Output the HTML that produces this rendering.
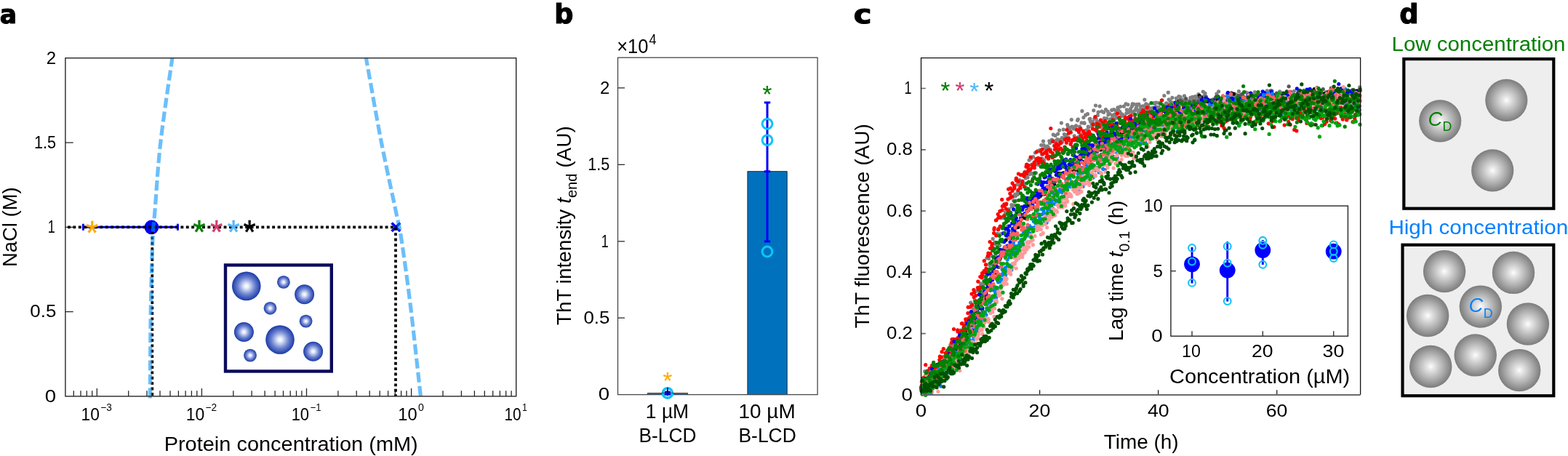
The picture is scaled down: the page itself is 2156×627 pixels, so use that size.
<!DOCTYPE html>
<html lang="en"><head><meta charset="utf-8"><title>Figure</title>
<style>
html,body{margin:0;padding:0;background:#fff;}
svg{display:block;font-family:"Liberation Sans", sans-serif;}
</style></head><body>
<svg width="2156" height="627" viewBox="0 0 2156 627">
<defs>
<radialGradient id="gb" cx="0.5" cy="0.5" r="0.5"><stop offset="0" stop-color="#ffffff"/><stop offset="0.15" stop-color="#e8ecfa"/><stop offset="0.6" stop-color="#6a82d0"/><stop offset="1" stop-color="#1c3aa8"/></radialGradient>
<radialGradient id="gg" cx="0.5" cy="0.5" r="0.5"><stop offset="0" stop-color="#ffffff"/><stop offset="0.12" stop-color="#ececec"/><stop offset="0.6" stop-color="#b0b0b0"/><stop offset="1" stop-color="#7c7c7c"/></radialGradient>
</defs>
<rect width="2156" height="627" fill="#fff"/>
<text transform="translate(-0.13 32.31) scale(0.9333 0.9511)" font-size="37" fill="#000" font-weight="bold" font-family="'DejaVu Sans', 'Liberation Sans', sans-serif" stroke="#000" stroke-width="1.2" stroke-linejoin="round">a</text>
<text transform="translate(762.23 32.27) scale(0.9870 0.9833)" font-size="37" fill="#000" font-weight="bold" font-family="'DejaVu Sans', 'Liberation Sans', sans-serif" stroke="#000" stroke-width="1.2" stroke-linejoin="round">b</text>
<text transform="translate(1173.77 32.31) scale(1.1263 0.9511)" font-size="37" fill="#000" font-weight="bold" font-family="'DejaVu Sans', 'Liberation Sans', sans-serif" stroke="#000" stroke-width="1.2" stroke-linejoin="round">c</text>
<text transform="translate(1924.31 32.27) scale(0.9913 0.9833)" font-size="37" fill="#000" font-weight="bold" font-family="'DejaVu Sans', 'Liberation Sans', sans-serif" stroke="#000" stroke-width="1.2" stroke-linejoin="round">d</text>
<g id="pa">
<path d="M89.9 428.6h10.8M89.9 312.4h10.8M89.9 196.1h10.8M101.3 544.9v-7.6M111.0 544.9v-7.6M119.3 544.9v-7.6M126.7 544.9v-7.6M133.3 544.9v-10.8M176.7 544.9v-7.6M202.0 544.9v-7.6M220.0 544.9v-7.6M234.0 544.9v-7.6M245.4 544.9v-7.6M255.1 544.9v-7.6M263.4 544.9v-7.6M270.8 544.9v-7.6M277.4 544.9v-10.8M320.8 544.9v-7.6M346.1 544.9v-7.6M364.1 544.9v-7.6M378.1 544.9v-7.6M389.5 544.9v-7.6M399.2 544.9v-7.6M407.5 544.9v-7.6M414.9 544.9v-7.6M421.5 544.9v-10.8M464.9 544.9v-7.6M490.2 544.9v-7.6M508.2 544.9v-7.6M522.2 544.9v-7.6M533.6 544.9v-7.6M543.3 544.9v-7.6M551.6 544.9v-7.6M559.0 544.9v-7.6M565.6 544.9v-10.8M609.0 544.9v-7.6M634.4 544.9v-7.6M652.4 544.9v-7.6M666.3 544.9v-7.6M677.7 544.9v-7.6M687.4 544.9v-7.6M695.7 544.9v-7.6M703.1 544.9v-7.6" stroke="#262626" stroke-width="1.3" fill="none"/>
<path d="M114.4 312.3H244.4M114.4 307.8v9M244.4 307.8v9" stroke="#0000FF" stroke-width="3" fill="none"/>
<circle cx="208.4" cy="312.4" r="9.9" fill="#0000F5"/>
<path d="M538.6 306.4l11.6 11.6M550.2 306.4l-11.6 11.6" stroke="#0000FF" stroke-width="3.6" fill="none"/>
<path d="M93 312.3H545.5" stroke="#000" stroke-width="3.7" stroke-dasharray="3.9 3.5" fill="none"/>
<path d="M209.3 318V544.4" stroke="#000" stroke-width="3.7" stroke-dasharray="3.9 3.5" fill="none"/>
<path d="M544 312.8V544.4" stroke="#000" stroke-width="3.7" stroke-dasharray="3.9 3.5" fill="none"/>
<path d="M236.9 79.8C234.2 98.9 224.9 159.7 220.9 194.7C216.9 229.7 214.8 267.4 213.0 290.0C211.2 312.6 210.8 307.5 209.9 330.0C209.0 352.5 207.9 388.8 207.3 425.0C206.7 461.2 206.5 527.1 206.3 547.5" stroke="#0090F8" stroke-opacity="0.58" stroke-width="5.2" fill="none" stroke-dasharray="14 5.047" stroke-dashoffset="1.8"/>
<path d="M503.4 79.8C506.8 98.5 516.9 156.9 523.7 192.2C530.6 227.5 539.8 268.7 544.5 291.5C549.2 314.3 548.6 307.4 551.9 328.8C555.2 350.2 559.9 383.6 564.3 419.6C568.7 455.6 576.0 524.0 578.4 544.9" stroke="#0090F8" stroke-opacity="0.58" stroke-width="5.2" fill="none" stroke-dasharray="14.1 5.086" stroke-dashoffset="3.3"/>
<rect x="89.9" y="79.8" width="619.8" height="465.1" fill="none" stroke="#262626" stroke-width="1.4"/>
<text transform="translate(118.10 335.53) scale(1.0092 1.06)" font-size="44.1" fill="#FFAC00" stroke="#FFAC00" stroke-width="0.4">*</text>
<text transform="translate(265.30 334.53) scale(1.0092 1.06)" font-size="44.1" fill="#008000" stroke="#008000" stroke-width="0.4">*</text>
<text transform="translate(289.00 334.53) scale(1.0092 1.06)" font-size="44.1" fill="#D04070" stroke="#D04070" stroke-width="0.4">*</text>
<text transform="translate(312.60 334.53) scale(1.0092 1.06)" font-size="44.1" fill="#55B8FA" stroke="#55B8FA" stroke-width="0.4">*</text>
<text transform="translate(334.60 335.33) scale(1.0092 1.06)" font-size="44.1" fill="#000" stroke="#000" stroke-width="0.4">*</text>
<rect x="310" y="364.5" width="145.8" height="146" fill="#fff" stroke="#0A0A5C" stroke-width="4.4"/>
<circle cx="338.8" cy="393.4" r="19.8" fill="url(#gb)"/>
<circle cx="389.9" cy="387.9" r="8.9" fill="url(#gb)"/>
<circle cx="418.6" cy="404.8" r="13.5" fill="url(#gb)"/>
<circle cx="371.5" cy="423.8" r="8.9" fill="url(#gb)"/>
<circle cx="420.6" cy="441.6" r="8.9" fill="url(#gb)"/>
<circle cx="335.4" cy="456.5" r="13.5" fill="url(#gb)"/>
<circle cx="385" cy="467.1" r="19.8" fill="url(#gb)"/>
<circle cx="430.6" cy="483.2" r="13.5" fill="url(#gb)"/>
<circle cx="344" cy="488.6" r="8.9" fill="url(#gb)"/>
<text transform="translate(61.72 552.7) scale(1.1500 1)" font-size="24" fill="#000" >0</text>
<text transform="translate(41.33 436.4) scale(1.0780 1)" font-size="24" fill="#000" >0.5</text>
<text transform="translate(65.71 320.2) scale(0.7500 1)" font-size="24" fill="#000" >1</text>
<text transform="translate(47.07 203.9) scale(0.9000 1)" font-size="24" fill="#000" >1.5</text>
<text transform="translate(63.85 87.6) scale(1.0000 1)" font-size="24" fill="#000" >2</text>
<text transform="translate(111.57 577.8) scale(0.9491 1)" font-size="24" fill="#000" >10<tspan font-size="14.3" dy="-12.6" dx="1.5">−3</tspan></text>
<text transform="translate(255.66 577.8) scale(0.9548 1)" font-size="24" fill="#000" >10<tspan font-size="14.3" dy="-12.6" dx="1.5">−2</tspan></text>
<text transform="translate(400.64 577.8) scale(0.9167 1)" font-size="24" fill="#000" >10<tspan font-size="14.3" dy="-12.6" dx="1.5">−1</tspan></text>
<text transform="translate(547.22 577.8) scale(0.9867 1)" font-size="24" fill="#000" >10<tspan font-size="14.3" dy="-12.6" dx="1.5">0</tspan></text>
<text transform="translate(693.53 577.8) scale(0.8681 1)" font-size="24" fill="#000" >10<tspan font-size="14.3" dy="-12.6" dx="1.5">1</tspan></text>
<text transform="translate(225.65 619.8) scale(1.0452 1)" font-size="27.7" fill="#000" >Protein concentration (mM)</text>
<text transform="translate(23.0 367.03) rotate(-90) scale(0.9911 1)" font-size="27.7" fill="#000" >NaCl (M)</text>
</g>
<g id="pb">
<path d="M849.5 437.2h9.5M849.5 331.8h9.5M849.5 226.3h9.5M849.5 120.9h9.5" stroke="#262626" stroke-width="1.3" fill="none"/>
<rect x="1027.9" y="235.7" width="54.3" height="306.9" fill="#0072BD" stroke="#10202c" stroke-width="0.9"/>
<rect x="849.5" y="79.2" width="274.6" height="463.4" fill="none" stroke="#484848" stroke-width="1.3"/>
<path d="M1055 140.9V332M1050.8 140.9h8.4M1050.8 332h8.4M1050.8 235.7h8.4" stroke="#0000FF" stroke-width="3" fill="none"/>
<circle cx="1055" cy="170.3" r="6.9" fill="none" stroke="#0CC4F8" stroke-width="3"/>
<circle cx="1055" cy="192.8" r="6.9" fill="none" stroke="#0CC4F8" stroke-width="3"/>
<circle cx="1055" cy="346" r="6.9" fill="none" stroke="#0CC4F8" stroke-width="3"/>
<circle cx="917.9" cy="540.5" r="6.7" fill="none" stroke="#0CC4F8" stroke-width="3.4"/>
<rect x="913.6" y="537.4" width="8.6" height="6" rx="1.5" fill="#0000F0"/>
<path d="M917.9 533v11.3" stroke="#000080" stroke-width="1.7" fill="none"/>
<path d="M890.4 541.4H910M926 541.4H945.6" stroke="#0072BD" stroke-width="1.2" fill="none"/>
<path d="M890.4 542.6V540.4H945.6V542.6" stroke="#2a2a2a" stroke-width="0.9" fill="none" stroke-opacity="0.9"/>
<text transform="translate(1048.59 140.56) scale(1.0261 1.05)" font-size="32.1" fill="#008000" stroke="#008000" stroke-width="0.15">*</text>
<text transform="translate(911.49 534.86) scale(1.0261 1.05)" font-size="32.1" fill="#FFAC00" stroke="#FFAC00" stroke-width="0.15">*</text>
<text transform="translate(822.83 550.4) scale(1.1500 1)" font-size="24" fill="#000" >0</text>
<text transform="translate(802.43 445.0) scale(1.0780 1)" font-size="24" fill="#000" >0.5</text>
<text transform="translate(826.81 339.6) scale(0.7500 1)" font-size="24" fill="#000" >1</text>
<text transform="translate(808.17 234.1) scale(0.9000 1)" font-size="24" fill="#000" >1.5</text>
<text transform="translate(824.95 128.7) scale(1.0000 1)" font-size="24" fill="#000" >2</text>
<text transform="translate(848.18 72.9) scale(0.9123 1)" font-size="28" fill="#000" >×10<tspan font-size="19.8" dy="-12" dx="1">4</tspan></text>
<text transform="translate(887.86 575.1) scale(0.9684 1)" font-size="27.3" fill="#000" >1 µM</text>
<text transform="translate(878.57 607.6) scale(0.9455 1)" font-size="27.8" fill="#000" >B-LCD</text>
<text transform="translate(1015.55 575.1) scale(1.0228 1)" font-size="27.3" fill="#000" >10 µM</text>
<text transform="translate(1015.46 607.6) scale(0.9517 1)" font-size="27.8" fill="#000" >B-LCD</text>
<text transform="translate(784.5 447.20) rotate(-90) scale(1.0063 1)" font-size="27.8" fill="#000" >ThT intensity <tspan font-style="italic">t</tspan><tspan font-size="20" dy="8">end</tspan><tspan dy="-8"> (AU)</tspan></text>
</g>
<g id="pc">
<path d="M1266.5 458.7h6.3M1266.5 374.4h6.3M1266.5 290.1h6.3M1266.5 205.8h6.3M1266.5 121.5h6.3" stroke="#6a6a6a" stroke-width="1.7" fill="none"/>
<path d="M1429.6 542.8v-6.5M1592.6 542.8v-6.5M1755.7 542.8v-6.5" stroke="#222" stroke-width="1.3" fill="none"/>
<path d="M1268.1 522.8h0M1270.9 520.7h0M1273.7 527.7h0M1276.5 515.7h0M1279.2 510.7h0M1282.0 510.9h0M1284.8 510.0h0M1287.5 509.1h0M1290.3 505.0h0M1293.1 497.6h0M1295.9 496.9h0M1298.6 495.2h0M1301.4 489.7h0M1304.2 484.1h0M1306.9 474.3h0M1309.7 478.7h0M1312.5 483.2h0M1315.3 467.8h0M1318.0 475.8h0M1320.8 454.1h0M1323.6 444.5h0M1326.4 449.1h0M1329.1 456.4h0M1331.9 437.4h0M1334.7 416.2h0M1337.4 430.2h0M1340.2 412.5h0M1343.0 400.3h0M1345.8 397.6h0M1348.5 389.8h0M1351.3 379.5h0M1354.1 372.7h0M1356.8 354.8h0M1359.6 355.6h0M1362.4 349.9h0M1365.2 328.3h0M1367.9 333.0h0M1370.7 321.5h0M1373.5 313.8h0M1376.3 299.8h0M1379.0 299.5h0M1381.8 295.0h0M1384.6 294.4h0M1387.3 287.5h0M1390.1 269.4h0M1392.9 270.2h0M1395.7 267.0h0M1398.4 253.8h0M1401.2 251.7h0M1404.0 240.7h0M1406.7 240.1h0M1409.5 236.2h0M1412.3 226.0h0M1415.1 220.2h0M1417.8 218.1h0M1420.6 215.7h0M1423.4 210.0h0M1426.1 221.6h0M1428.9 207.6h0M1431.7 199.5h0M1434.5 194.2h0M1437.2 203.8h0M1440.0 201.1h0M1442.8 193.8h0M1445.6 194.3h0M1448.3 185.2h0M1451.1 186.4h0M1453.9 191.5h0M1456.6 179.1h0M1459.4 169.1h0M1462.2 178.2h0M1465.0 188.7h0M1467.7 171.5h0M1470.5 175.7h0M1473.3 164.6h0M1476.0 176.9h0M1478.8 173.7h0M1481.6 165.6h0M1484.4 174.2h0M1487.1 168.9h0M1489.9 161.6h0M1492.7 158.2h0M1495.5 156.7h0M1498.2 163.7h0M1501.0 170.8h0M1503.8 151.8h0M1506.5 145.1h0M1509.3 158.6h0M1512.1 146.1h0M1514.9 153.1h0M1517.6 154.5h0M1520.4 150.7h0M1523.2 153.3h0M1525.9 156.5h0M1528.7 151.4h0M1531.5 150.6h0M1534.3 152.0h0M1537.0 147.9h0M1539.8 153.5h0M1542.6 159.6h0M1545.4 146.2h0M1548.1 142.9h0M1550.9 143.8h0M1553.7 153.2h0M1556.4 146.2h0M1559.2 143.3h0M1562.0 149.1h0M1564.8 151.5h0M1567.5 153.1h0M1570.3 151.7h0M1573.1 146.1h0M1575.8 142.8h0M1578.6 144.4h0M1581.4 151.4h0M1584.2 150.0h0M1586.9 141.5h0M1589.7 141.1h0M1592.5 153.0h0M1595.3 150.5h0M1598.0 137.5h0M1600.8 131.5h0M1603.6 141.9h0M1606.3 127.2h0M1609.1 138.8h0M1611.9 134.3h0M1614.7 141.5h0M1617.4 135.0h0M1620.2 146.0h0M1623.0 133.3h0M1625.7 137.1h0M1628.5 131.9h0M1631.3 140.1h0M1634.1 138.8h0M1636.8 134.3h0M1639.6 133.3h0M1642.4 146.1h0M1645.1 136.9h0M1647.9 129.5h0M1650.7 138.9h0M1653.5 137.8h0M1656.2 132.0h0M1659.0 140.7h0M1661.8 137.9h0M1664.6 140.3h0M1667.3 148.4h0M1670.1 140.3h0M1672.9 129.0h0M1675.6 125.8h0M1678.4 142.6h0M1681.2 142.2h0M1684.0 139.6h0M1686.7 144.4h0M1689.5 134.0h0M1692.3 129.7h0M1695.0 135.8h0M1697.8 133.5h0M1700.6 140.1h0M1703.4 125.5h0M1706.1 130.2h0M1708.9 137.6h0M1711.7 137.8h0M1714.5 137.4h0M1717.2 137.0h0M1720.0 128.0h0M1722.8 136.9h0M1725.5 126.5h0M1728.3 132.3h0M1731.1 139.6h0M1733.9 137.1h0M1736.6 132.7h0M1739.4 132.9h0M1742.2 124.9h0M1744.9 134.3h0M1747.7 132.0h0M1750.5 134.6h0M1753.3 142.9h0M1756.0 128.5h0M1758.8 140.4h0M1761.6 130.2h0M1764.4 129.2h0M1767.1 139.4h0M1769.9 131.5h0M1772.7 136.0h0M1775.4 141.2h0M1778.2 137.1h0M1781.0 145.5h0M1783.8 130.9h0M1786.5 142.0h0M1789.3 142.3h0M1792.1 129.4h0M1794.8 126.3h0M1797.6 135.4h0M1800.4 127.4h0M1803.2 129.8h0M1805.9 137.2h0M1808.7 134.1h0M1811.5 139.9h0M1814.2 127.5h0M1817.0 136.4h0M1819.8 138.2h0M1822.6 136.5h0M1825.3 141.6h0M1828.1 144.0h0M1830.9 130.2h0M1833.7 136.8h0M1836.4 132.7h0M1839.2 128.1h0M1842.0 140.0h0M1844.7 135.8h0M1847.5 142.6h0M1850.3 133.0h0M1853.1 135.3h0M1855.8 134.5h0M1858.6 125.2h0M1861.4 125.4h0M1864.1 132.1h0M1866.9 132.3h0M1869.7 119.9h0M1268.9 532.9h0M1271.7 510.6h0M1274.4 523.0h0M1277.2 516.7h0M1280.0 521.9h0M1282.7 512.1h0M1285.5 511.2h0M1288.3 503.8h0M1291.1 500.2h0M1293.8 502.8h0M1296.6 502.4h0M1299.4 491.0h0M1302.1 482.0h0M1304.9 484.6h0M1307.7 482.5h0M1310.5 474.7h0M1313.2 482.7h0M1316.0 474.6h0M1318.8 486.5h0M1321.6 464.4h0M1324.3 473.5h0M1327.1 453.2h0M1329.9 444.3h0M1332.6 450.5h0M1335.4 431.7h0M1338.2 424.8h0M1341.0 426.6h0M1343.7 421.2h0M1346.5 400.4h0M1349.3 394.4h0M1352.0 391.2h0M1354.8 381.6h0M1357.6 386.0h0M1360.4 362.9h0M1363.1 351.5h0M1365.9 340.8h0M1368.7 335.7h0M1371.5 321.3h0M1374.2 322.2h0M1377.0 321.4h0M1379.8 298.9h0M1382.5 291.8h0M1385.3 301.2h0M1388.1 297.2h0M1390.9 281.7h0M1393.6 275.8h0M1396.4 269.6h0M1399.2 267.4h0M1401.9 247.7h0M1404.7 249.9h0M1407.5 253.7h0M1410.3 244.9h0M1413.0 244.0h0M1415.8 235.9h0M1418.6 226.2h0M1421.4 241.4h0M1424.1 225.3h0M1426.9 207.7h0M1429.7 206.4h0M1432.4 212.1h0M1435.2 199.7h0M1438.0 208.9h0M1440.8 203.4h0M1443.5 196.7h0M1446.3 192.1h0M1449.1 194.1h0M1451.8 198.4h0M1454.6 184.1h0M1457.4 196.1h0M1460.2 189.7h0M1462.9 189.6h0M1465.7 188.5h0M1468.5 174.2h0M1471.2 179.7h0M1474.0 174.1h0M1476.8 174.6h0M1479.6 172.9h0M1482.3 164.1h0M1485.1 175.7h0M1487.9 152.7h0M1490.7 168.8h0M1493.4 179.1h0M1496.2 174.2h0M1499.0 163.4h0M1501.7 173.9h0M1504.5 171.2h0M1507.3 163.8h0M1510.1 154.2h0M1512.8 174.9h0M1515.6 173.4h0M1518.4 162.7h0M1521.1 169.4h0M1523.9 157.8h0M1526.7 163.8h0M1529.5 158.6h0M1532.2 164.8h0M1535.0 161.4h0M1537.8 151.3h0M1540.6 146.6h0M1543.3 157.3h0M1546.1 164.8h0M1548.9 155.6h0M1551.6 154.6h0M1554.4 149.6h0M1557.2 142.9h0M1560.0 159.0h0M1562.7 147.7h0M1565.5 155.0h0M1568.3 146.4h0M1571.0 154.8h0M1573.8 137.1h0M1576.6 149.0h0M1579.4 147.0h0M1582.1 149.4h0M1584.9 148.3h0M1587.7 142.8h0M1590.5 147.4h0M1593.2 141.6h0M1596.0 150.7h0M1598.8 144.1h0M1601.5 147.1h0M1604.3 145.4h0M1607.1 136.8h0M1609.9 144.3h0M1612.6 146.4h0M1615.4 143.1h0M1618.2 139.0h0M1620.9 132.6h0M1623.7 141.4h0M1626.5 151.4h0M1629.3 139.4h0M1632.0 139.8h0M1634.8 138.5h0M1637.6 150.0h0M1640.3 137.6h0M1643.1 133.0h0M1645.9 135.8h0M1648.7 136.7h0M1651.4 143.8h0M1654.2 126.1h0M1657.0 128.4h0M1659.8 136.1h0M1662.5 140.7h0M1665.3 138.7h0M1668.1 136.5h0M1670.8 137.9h0M1673.6 139.5h0M1676.4 136.3h0M1679.2 137.5h0M1681.9 139.5h0M1684.7 135.6h0M1687.5 128.8h0M1690.2 143.1h0M1693.0 127.6h0M1695.8 140.5h0M1698.6 129.5h0M1701.3 130.8h0M1704.1 134.7h0M1706.9 131.5h0M1709.7 135.8h0M1712.4 138.1h0M1715.2 127.8h0M1718.0 143.0h0M1720.7 133.1h0M1723.5 129.4h0M1726.3 133.3h0M1729.1 134.6h0M1731.8 132.8h0M1734.6 135.9h0M1737.4 140.5h0M1740.1 130.8h0M1742.9 127.7h0M1745.7 137.3h0M1748.5 132.7h0M1751.2 130.5h0M1754.0 137.7h0M1756.8 135.6h0M1759.6 125.9h0M1762.3 127.9h0M1765.1 136.6h0M1767.9 134.3h0M1770.6 135.8h0M1773.4 129.8h0M1776.2 129.5h0M1779.0 135.7h0M1781.7 137.8h0M1784.5 133.7h0M1787.3 129.8h0M1790.0 128.8h0M1792.8 131.4h0M1795.6 137.8h0M1798.4 139.7h0M1801.1 136.3h0M1803.9 128.9h0M1806.7 131.5h0M1809.4 130.2h0M1812.2 142.0h0M1815.0 131.8h0M1817.8 136.0h0M1820.5 144.8h0M1823.3 132.4h0M1826.1 133.3h0M1828.9 133.6h0M1831.6 135.3h0M1834.4 131.5h0M1837.2 134.0h0M1839.9 135.0h0M1842.7 130.5h0M1845.5 136.2h0M1848.3 133.0h0M1851.0 129.0h0M1853.8 133.5h0M1856.6 131.4h0M1859.3 123.9h0M1862.1 141.3h0M1864.9 129.8h0M1867.7 143.2h0M1266.5 535.7h0M1269.3 536.8h0M1272.1 539.6h0M1274.9 527.6h0M1277.6 517.0h0M1280.4 524.8h0M1283.2 518.6h0M1285.9 512.2h0M1288.7 511.1h0M1291.5 503.2h0M1294.3 499.3h0M1297.0 499.9h0M1299.8 491.2h0M1302.6 504.3h0M1305.3 492.4h0M1308.1 485.5h0M1310.9 469.3h0M1313.7 476.7h0M1316.4 480.3h0M1319.2 461.9h0M1322.0 472.4h0M1324.7 458.5h0M1327.5 455.2h0M1330.3 464.3h0M1333.1 442.7h0M1335.8 443.2h0M1338.6 436.8h0M1341.4 416.4h0M1344.2 421.9h0M1346.9 412.1h0M1349.7 415.1h0M1352.5 404.2h0M1355.2 390.0h0M1358.0 387.0h0M1360.8 364.7h0M1363.6 364.0h0M1366.3 355.2h0M1369.1 351.0h0M1371.9 339.4h0M1374.6 337.6h0M1377.4 321.3h0M1380.2 307.6h0M1383.0 316.1h0M1385.7 311.2h0M1388.5 291.8h0M1391.3 284.0h0M1394.1 282.3h0M1396.8 275.9h0M1399.6 263.9h0M1402.4 253.0h0M1405.1 272.3h0M1407.9 252.4h0M1410.7 257.8h0M1413.5 239.1h0M1416.2 239.6h0M1419.0 238.3h0M1421.8 239.5h0M1424.5 237.8h0M1427.3 226.6h0M1430.1 223.2h0M1432.9 218.1h0M1435.6 220.2h0M1438.4 209.3h0M1441.2 202.3h0M1444.0 205.4h0M1446.7 215.1h0M1449.5 200.2h0M1452.3 193.3h0M1455.0 192.2h0M1457.8 192.4h0M1460.6 195.2h0M1463.4 184.6h0M1466.1 185.5h0M1468.9 189.0h0M1471.7 181.0h0M1474.4 193.1h0M1477.2 186.8h0M1480.0 178.3h0M1482.8 188.6h0M1485.5 185.6h0M1488.3 184.5h0M1491.1 169.4h0M1493.9 181.2h0M1496.6 175.2h0M1499.4 167.1h0M1502.2 167.5h0M1504.9 163.3h0M1507.7 168.4h0M1510.5 167.5h0M1513.3 168.2h0M1516.0 170.4h0M1518.8 170.2h0M1521.6 162.8h0M1524.3 168.2h0M1527.1 168.0h0M1529.9 160.1h0M1532.7 157.1h0M1535.4 162.0h0M1538.2 168.5h0M1541.0 156.2h0M1543.7 170.7h0M1546.5 159.4h0M1549.3 150.8h0M1552.1 161.0h0M1554.8 151.3h0M1557.6 154.6h0M1560.4 152.1h0M1563.2 143.7h0M1565.9 143.4h0M1568.7 149.8h0M1571.5 145.8h0M1574.2 150.7h0M1577.0 169.7h0M1579.8 151.8h0M1582.6 159.9h0M1585.3 149.9h0M1588.1 142.8h0M1590.9 148.6h0M1593.6 147.3h0M1596.4 155.2h0M1599.2 148.4h0M1602.0 148.8h0M1604.7 142.4h0M1607.5 146.2h0M1610.3 141.2h0M1613.1 141.0h0M1615.8 144.6h0M1618.6 150.0h0M1621.4 145.6h0M1624.1 143.6h0M1626.9 144.6h0M1629.7 137.4h0M1632.5 143.2h0M1635.2 140.1h0M1638.0 144.5h0M1640.8 145.7h0M1643.5 132.6h0M1646.3 135.0h0M1649.1 142.6h0M1651.9 135.9h0M1654.6 132.6h0M1657.4 143.5h0M1660.2 140.4h0M1663.0 139.5h0M1665.7 137.6h0M1668.5 136.6h0M1671.3 134.1h0M1674.0 140.3h0M1676.8 143.6h0M1679.6 148.6h0M1682.4 140.3h0M1685.1 145.1h0M1687.9 132.8h0M1690.7 148.2h0M1693.4 128.1h0M1696.2 140.4h0M1699.0 151.5h0M1701.8 136.0h0M1704.5 138.5h0M1707.3 135.4h0M1710.1 132.9h0M1712.8 126.8h0M1715.6 135.0h0M1718.4 146.7h0M1721.2 136.6h0M1723.9 132.7h0M1726.7 129.0h0M1729.5 130.7h0M1732.3 137.3h0M1735.0 140.5h0M1737.8 133.0h0M1740.6 134.6h0M1743.3 137.3h0M1746.1 148.1h0M1748.9 124.9h0M1751.7 131.6h0M1754.4 143.6h0M1757.2 135.9h0M1760.0 133.5h0M1762.7 129.9h0M1765.5 134.2h0M1768.3 134.2h0M1771.1 139.9h0M1773.8 136.7h0M1776.6 136.2h0M1779.4 125.3h0M1782.2 135.4h0M1784.9 126.9h0M1787.7 127.9h0M1790.5 135.3h0M1793.2 142.0h0M1796.0 127.8h0M1798.8 128.4h0M1801.6 128.8h0M1804.3 138.4h0M1807.1 130.2h0M1809.9 128.1h0M1812.6 145.5h0M1815.4 134.8h0M1818.2 132.9h0M1821.0 133.7h0M1823.7 126.3h0M1826.5 138.1h0M1829.3 130.7h0M1832.1 137.2h0M1834.8 133.9h0M1837.6 133.1h0M1840.4 143.9h0M1843.1 140.1h0M1845.9 129.5h0M1848.7 138.9h0M1851.5 137.3h0M1854.2 133.1h0M1857.0 133.0h0M1859.8 130.6h0M1862.5 124.6h0M1865.3 139.6h0M1868.1 124.1h0" stroke="#808080" stroke-width="5.2" stroke-linecap="round" fill="none"/>
<path d="M1266.6 532.5h0M1269.4 540.8h0M1272.2 519.1h0M1275.0 519.9h0M1277.7 522.2h0M1280.5 525.9h0M1283.3 523.4h0M1286.0 510.3h0M1288.8 518.2h0M1291.6 506.2h0M1294.4 508.6h0M1297.1 505.7h0M1299.9 502.3h0M1302.7 506.5h0M1305.5 488.5h0M1308.2 496.3h0M1311.0 494.1h0M1313.8 493.3h0M1316.5 480.3h0M1319.3 473.1h0M1322.1 465.5h0M1324.9 477.7h0M1327.6 456.4h0M1330.4 461.4h0M1333.2 460.2h0M1335.9 454.9h0M1338.7 438.3h0M1341.5 431.6h0M1344.3 432.8h0M1347.0 419.6h0M1349.8 413.8h0M1352.6 409.9h0M1355.4 409.4h0M1358.1 396.2h0M1360.9 391.1h0M1363.7 383.5h0M1366.4 372.6h0M1369.2 375.1h0M1372.0 356.5h0M1374.8 356.3h0M1377.5 349.6h0M1380.3 347.3h0M1383.1 330.1h0M1385.8 338.1h0M1388.6 343.5h0M1391.4 327.5h0M1394.2 318.6h0M1396.9 313.0h0M1399.7 312.6h0M1402.5 304.0h0M1405.3 300.0h0M1408.0 299.2h0M1410.8 300.4h0M1413.6 282.7h0M1416.3 285.2h0M1419.1 283.3h0M1421.9 285.1h0M1424.7 277.5h0M1427.4 266.1h0M1430.2 269.7h0M1433.0 267.2h0M1435.7 267.0h0M1438.5 261.2h0M1441.3 258.5h0M1444.1 265.0h0M1446.8 254.0h0M1449.6 253.4h0M1452.4 240.5h0M1455.1 238.4h0M1457.9 238.6h0M1460.7 241.8h0M1463.5 237.7h0M1466.2 236.2h0M1469.0 230.0h0M1471.8 232.2h0M1474.6 233.6h0M1477.3 234.8h0M1480.1 232.1h0M1482.9 234.8h0M1485.6 222.7h0M1488.4 222.2h0M1491.2 209.2h0M1494.0 220.5h0M1496.7 211.6h0M1499.5 220.3h0M1502.3 212.1h0M1505.0 212.5h0M1507.8 216.9h0M1510.6 204.0h0M1513.4 206.0h0M1516.1 199.5h0M1518.9 193.4h0M1521.7 198.9h0M1524.5 201.8h0M1527.2 188.8h0M1530.0 201.6h0M1532.8 190.8h0M1535.5 190.5h0M1538.3 181.5h0M1541.1 182.5h0M1543.9 183.9h0M1546.6 187.7h0M1549.4 180.6h0M1552.2 183.8h0M1554.9 186.0h0M1557.7 177.0h0M1560.5 179.0h0M1563.3 176.2h0M1566.0 163.5h0M1568.8 167.9h0M1571.6 168.9h0M1574.4 174.3h0M1577.1 171.6h0M1579.9 172.9h0M1582.7 160.1h0M1585.4 160.5h0M1588.2 161.8h0M1591.0 165.8h0M1593.8 160.3h0M1596.5 155.8h0M1599.3 152.2h0M1602.1 153.5h0M1604.8 158.3h0M1607.6 157.0h0M1610.4 160.2h0M1613.2 160.1h0M1615.9 154.5h0M1618.7 149.4h0M1621.5 138.7h0M1624.2 156.2h0M1627.0 157.9h0M1629.8 144.0h0M1632.6 147.8h0M1635.3 143.8h0M1638.1 155.5h0M1640.9 145.5h0M1643.7 144.5h0M1646.4 146.0h0M1649.2 131.6h0M1652.0 134.3h0M1654.7 145.4h0M1657.5 146.0h0M1660.3 142.0h0M1663.1 150.2h0M1665.8 138.3h0M1668.6 144.3h0M1671.4 136.6h0M1674.1 135.1h0M1676.9 141.5h0M1679.7 138.4h0M1682.5 133.0h0M1685.2 139.9h0M1688.0 136.5h0M1690.8 136.8h0M1693.6 128.8h0M1696.3 129.2h0M1699.1 140.1h0M1701.9 136.9h0M1704.6 139.5h0M1707.4 138.3h0M1710.2 145.0h0M1713.0 139.0h0M1715.7 142.8h0M1718.5 134.8h0M1721.3 139.2h0M1724.0 132.5h0M1726.8 137.0h0M1729.6 135.8h0M1732.4 144.1h0M1735.1 135.4h0M1737.9 133.6h0M1740.7 137.7h0M1743.5 131.7h0M1746.2 131.5h0M1749.0 135.4h0M1751.8 130.6h0M1754.5 135.1h0M1757.3 130.4h0M1760.1 132.1h0M1762.9 134.5h0M1765.6 134.7h0M1768.4 136.3h0M1771.2 136.3h0M1773.9 144.7h0M1776.7 133.5h0M1779.5 131.1h0M1782.3 141.8h0M1785.0 128.2h0M1787.8 138.5h0M1790.6 130.3h0M1793.3 129.3h0M1796.1 130.8h0M1798.9 123.8h0M1801.7 128.9h0M1804.4 137.5h0M1807.2 122.6h0M1810.0 132.8h0M1812.8 132.6h0M1815.5 124.5h0M1818.3 131.6h0M1821.1 128.5h0M1823.8 130.6h0M1826.6 126.6h0M1829.4 140.5h0M1832.2 131.2h0M1834.9 134.1h0M1837.7 134.2h0M1840.5 124.9h0M1843.2 124.9h0M1846.0 135.5h0M1848.8 135.0h0M1851.6 131.6h0M1854.3 135.5h0M1857.1 132.7h0M1859.9 131.0h0M1862.7 127.3h0M1865.4 125.0h0M1868.2 129.5h0" stroke="#000000" stroke-width="5.2" stroke-linecap="round" fill="none"/>
<path d="M1267.5 532.6h0M1270.3 527.9h0M1273.1 535.0h0M1275.8 524.7h0M1278.6 528.6h0M1281.4 525.8h0M1284.2 519.1h0M1286.9 514.2h0M1289.7 510.7h0M1292.5 500.5h0M1295.3 512.3h0M1298.0 500.7h0M1300.8 504.6h0M1303.6 505.3h0M1306.3 491.7h0M1309.1 486.7h0M1311.9 495.2h0M1314.7 495.0h0M1317.4 483.6h0M1320.2 466.8h0M1323.0 469.8h0M1325.7 474.3h0M1328.5 475.7h0M1331.3 466.8h0M1334.1 459.3h0M1336.8 447.9h0M1339.6 442.7h0M1342.4 439.2h0M1345.2 431.9h0M1347.9 431.1h0M1350.7 426.4h0M1353.5 402.6h0M1356.2 405.4h0M1359.0 397.7h0M1361.8 399.3h0M1364.6 374.7h0M1367.3 365.7h0M1370.1 361.5h0M1372.9 367.5h0M1375.6 354.9h0M1378.4 343.5h0M1381.2 340.0h0M1384.0 339.2h0M1386.7 326.4h0M1389.5 333.6h0M1392.3 318.5h0M1395.0 311.0h0M1397.8 308.1h0M1400.6 305.3h0M1403.4 310.7h0M1406.1 295.3h0M1408.9 294.2h0M1411.7 289.2h0M1414.5 286.4h0M1417.2 281.4h0M1420.0 282.5h0M1422.8 269.3h0M1425.5 275.7h0M1428.3 271.6h0M1431.1 265.3h0M1433.9 259.4h0M1436.6 264.0h0M1439.4 257.1h0M1442.2 256.1h0M1444.9 254.4h0M1447.7 250.0h0M1450.5 250.0h0M1453.3 233.0h0M1456.0 243.8h0M1458.8 239.1h0M1461.6 243.5h0M1464.4 230.2h0M1467.1 235.7h0M1469.9 241.1h0M1472.7 225.5h0M1475.4 224.0h0M1478.2 230.8h0M1481.0 221.7h0M1483.8 224.1h0M1486.5 221.6h0M1489.3 212.0h0M1492.1 223.5h0M1494.8 218.1h0M1497.6 214.8h0M1500.4 204.1h0M1503.2 207.3h0M1505.9 194.1h0M1508.7 208.4h0M1511.5 195.7h0M1514.3 212.4h0M1517.0 201.0h0M1519.8 202.3h0M1522.6 196.3h0M1525.3 203.3h0M1528.1 197.9h0M1530.9 199.8h0M1533.7 184.0h0M1536.4 198.3h0M1539.2 196.0h0M1542.0 179.2h0M1544.7 177.0h0M1547.5 178.3h0M1550.3 183.7h0M1553.1 182.6h0M1555.8 182.5h0M1558.6 177.2h0M1561.4 173.6h0M1564.1 179.9h0M1566.9 176.3h0M1569.7 177.9h0M1572.5 167.9h0M1575.2 164.6h0M1578.0 157.8h0M1580.8 169.6h0M1583.6 161.6h0M1586.3 157.3h0M1589.1 157.6h0M1591.9 160.2h0M1594.6 159.4h0M1597.4 153.0h0M1600.2 151.2h0M1603.0 147.7h0M1605.7 152.2h0M1608.5 157.4h0M1611.3 153.2h0M1614.0 154.0h0M1616.8 148.1h0M1619.6 142.6h0M1622.4 137.8h0M1625.1 139.6h0M1627.9 145.4h0M1630.7 135.6h0M1633.5 149.6h0M1636.2 140.0h0M1639.0 143.9h0M1641.8 139.2h0M1644.5 147.7h0M1647.3 139.7h0M1650.1 133.9h0M1652.9 140.9h0M1655.6 143.5h0M1658.4 133.1h0M1661.2 137.5h0M1663.9 150.8h0M1666.7 143.2h0M1669.5 137.5h0M1672.3 133.1h0M1675.0 132.5h0M1677.8 142.2h0M1680.6 134.5h0M1683.4 139.3h0M1686.1 134.9h0M1688.9 138.8h0M1691.7 135.2h0M1694.4 135.1h0M1697.2 136.0h0M1700.0 137.5h0M1702.8 131.5h0M1705.5 132.1h0M1708.3 129.4h0M1711.1 134.9h0M1713.8 134.4h0M1716.6 131.2h0M1719.4 130.0h0M1722.2 135.0h0M1724.9 132.9h0M1727.7 133.3h0M1730.5 131.9h0M1733.2 130.6h0M1736.0 137.2h0M1738.8 128.1h0M1741.6 139.7h0M1744.3 134.0h0M1747.1 124.8h0M1749.9 139.6h0M1752.7 132.6h0M1755.4 128.0h0M1758.2 133.6h0M1761.0 134.4h0M1763.7 135.2h0M1766.5 133.5h0M1769.3 127.1h0M1772.1 118.8h0M1774.8 135.7h0M1777.6 137.8h0M1780.4 141.7h0M1783.1 130.6h0M1785.9 125.7h0M1788.7 128.0h0M1791.5 132.4h0M1794.2 135.6h0M1797.0 134.4h0M1799.8 130.9h0M1802.6 129.1h0M1805.3 125.1h0M1808.1 128.9h0M1810.9 120.7h0M1813.6 125.5h0M1816.4 131.6h0M1819.2 122.7h0M1822.0 143.7h0M1824.7 132.9h0M1827.5 126.8h0M1830.3 121.2h0M1833.0 129.2h0M1835.8 141.5h0M1838.6 134.0h0M1841.4 133.5h0M1844.1 132.1h0M1846.9 130.4h0M1849.7 123.7h0M1852.5 127.8h0M1855.2 125.5h0M1858.0 129.8h0M1860.8 123.3h0M1863.5 128.1h0M1866.3 131.1h0M1869.1 134.1h0" stroke="#555555" stroke-width="5.2" stroke-linecap="round" fill="none"/>
<path d="M1267.4 530.0h0M1270.2 533.0h0M1272.9 522.9h0M1275.7 517.0h0M1278.5 518.2h0M1281.2 502.7h0M1284.0 509.7h0M1286.8 502.4h0M1289.6 502.0h0M1292.3 490.2h0M1295.1 483.7h0M1297.9 497.2h0M1300.6 485.2h0M1303.4 484.3h0M1306.2 478.2h0M1309.0 466.5h0M1311.7 467.2h0M1314.5 466.6h0M1317.3 464.3h0M1320.1 459.0h0M1322.8 455.3h0M1325.6 447.4h0M1328.4 442.6h0M1331.1 422.3h0M1333.9 435.5h0M1336.7 419.0h0M1339.5 402.1h0M1342.2 414.0h0M1345.0 397.5h0M1347.8 380.5h0M1350.5 375.5h0M1353.3 358.7h0M1356.1 374.6h0M1358.9 348.2h0M1361.6 341.5h0M1364.4 335.3h0M1367.2 313.6h0M1369.9 302.8h0M1372.7 299.6h0M1375.5 298.3h0M1378.3 283.6h0M1381.0 283.2h0M1383.8 280.1h0M1386.6 260.1h0M1389.4 258.8h0M1392.1 251.9h0M1394.9 257.3h0M1397.7 248.3h0M1400.4 239.0h0M1403.2 240.3h0M1406.0 249.1h0M1408.8 237.0h0M1411.5 226.3h0M1414.3 227.5h0M1417.1 216.0h0M1419.8 226.6h0M1422.6 227.3h0M1425.4 208.8h0M1428.2 224.2h0M1430.9 208.1h0M1433.7 212.0h0M1436.5 210.2h0M1439.3 211.0h0M1442.0 215.2h0M1444.8 176.6h0M1447.6 194.4h0M1450.3 205.6h0M1453.1 204.0h0M1455.9 212.0h0M1458.7 196.8h0M1461.4 206.6h0M1464.2 191.8h0M1467.0 178.5h0M1469.7 190.5h0M1472.5 196.5h0M1475.3 192.1h0M1478.1 201.1h0M1480.8 178.4h0M1483.6 179.5h0M1486.4 186.9h0M1489.2 180.2h0M1491.9 188.5h0M1494.7 183.9h0M1497.5 180.7h0M1500.2 185.0h0M1503.0 171.1h0M1505.8 160.7h0M1508.6 170.2h0M1511.3 173.7h0M1514.1 191.1h0M1516.9 178.6h0M1519.6 173.2h0M1522.4 174.7h0M1525.2 169.9h0M1528.0 180.4h0M1530.7 171.3h0M1533.5 171.9h0M1536.3 156.2h0M1539.0 179.0h0M1541.8 189.1h0M1544.6 177.3h0M1547.4 161.7h0M1550.1 162.5h0M1552.9 160.3h0M1555.7 167.8h0M1558.5 172.4h0M1561.2 162.9h0M1564.0 174.0h0M1566.8 162.4h0M1569.5 160.2h0M1572.3 152.8h0M1575.1 158.2h0M1577.9 162.2h0M1580.6 154.2h0M1583.4 159.2h0M1586.2 161.8h0M1588.9 171.8h0M1591.7 157.3h0M1594.5 155.6h0M1597.3 138.0h0M1600.0 149.9h0M1602.8 166.2h0M1605.6 155.7h0M1608.4 152.1h0M1611.1 158.2h0M1613.9 152.0h0M1616.7 143.6h0M1619.4 150.4h0M1622.2 157.6h0M1625.0 159.6h0M1627.8 147.8h0M1630.5 160.4h0M1633.3 151.7h0M1636.1 161.8h0M1638.8 155.4h0M1641.6 161.1h0M1644.4 151.8h0M1647.2 147.8h0M1649.9 159.3h0M1652.7 164.6h0M1655.5 153.3h0M1658.3 163.1h0M1661.0 148.0h0M1663.8 159.6h0M1666.6 148.6h0M1669.3 167.2h0M1672.1 155.0h0M1674.9 153.6h0M1677.7 168.1h0M1680.4 147.3h0M1683.2 168.2h0M1686.0 152.2h0M1688.7 154.9h0M1691.5 137.1h0M1694.3 159.2h0M1697.1 151.1h0M1699.8 150.4h0M1702.6 153.1h0M1705.4 152.2h0M1708.1 151.7h0M1710.9 144.3h0M1713.7 155.3h0M1716.5 150.8h0M1719.2 161.6h0M1722.0 135.5h0M1724.8 155.8h0M1727.6 159.7h0M1730.3 161.2h0M1733.1 149.1h0M1735.9 157.2h0M1738.6 159.0h0M1741.4 139.3h0M1744.2 169.8h0M1747.0 152.3h0M1749.7 166.6h0M1752.5 149.0h0M1755.3 148.4h0M1758.0 149.8h0M1760.8 139.1h0M1763.6 161.0h0M1766.4 164.1h0M1769.1 159.4h0M1771.9 137.0h0M1774.7 157.1h0M1777.5 160.1h0M1780.2 148.2h0M1783.0 162.3h0M1785.8 150.1h0M1788.5 146.6h0M1791.3 160.0h0M1794.1 150.7h0M1796.9 169.4h0M1799.6 161.2h0M1802.4 149.2h0M1805.2 171.1h0M1807.9 148.0h0M1810.7 138.9h0M1813.5 160.0h0M1816.3 162.7h0M1819.0 159.2h0M1821.8 145.3h0M1824.6 154.2h0M1827.4 161.7h0M1830.1 160.1h0M1832.9 155.0h0M1835.7 163.1h0M1838.4 147.2h0M1841.2 171.2h0M1844.0 152.8h0M1846.8 159.9h0M1849.5 156.8h0M1852.3 145.5h0M1855.1 141.4h0M1857.8 160.2h0M1860.6 148.1h0M1863.4 157.5h0M1866.2 155.6h0M1868.9 150.9h0M1266.8 533.3h0M1269.6 519.5h0M1272.4 517.1h0M1275.1 510.1h0M1277.9 519.5h0M1280.7 522.7h0M1283.5 516.3h0M1286.2 504.3h0M1289.0 506.9h0M1291.8 494.8h0M1294.5 491.1h0M1297.3 479.5h0M1300.1 485.7h0M1302.9 490.9h0M1305.6 484.5h0M1308.4 471.2h0M1311.2 466.4h0M1313.9 478.0h0M1316.7 453.9h0M1319.5 457.6h0M1322.3 444.8h0M1325.0 450.6h0M1327.8 438.9h0M1330.6 439.2h0M1333.3 438.0h0M1336.1 404.1h0M1338.9 398.6h0M1341.7 415.9h0M1344.4 395.5h0M1347.2 394.9h0M1350.0 381.8h0M1352.8 375.0h0M1355.5 363.9h0M1358.3 351.8h0M1361.1 332.5h0M1363.8 336.9h0M1366.6 320.6h0M1369.4 302.9h0M1372.2 294.6h0M1374.9 290.4h0M1377.7 274.4h0M1380.5 296.9h0M1383.2 287.0h0M1386.0 273.9h0M1388.8 266.0h0M1391.6 270.6h0M1394.3 255.2h0M1397.1 246.9h0M1399.9 261.4h0M1402.7 257.2h0M1405.4 253.4h0M1408.2 242.4h0M1411.0 229.2h0M1413.7 235.0h0M1416.5 232.9h0M1419.3 230.3h0M1422.1 223.2h0M1424.8 219.2h0M1427.6 217.4h0M1430.4 222.3h0M1433.1 205.2h0M1435.9 224.7h0M1438.7 207.8h0M1441.5 218.2h0M1444.2 207.3h0M1447.0 216.7h0M1449.8 214.9h0M1452.6 197.5h0M1455.3 199.8h0M1458.1 195.3h0M1460.9 208.9h0M1463.6 206.8h0M1466.4 196.3h0M1469.2 192.6h0M1472.0 198.3h0M1474.7 192.7h0M1477.5 192.6h0M1480.3 192.5h0M1483.0 193.2h0M1485.8 176.8h0M1488.6 193.8h0M1491.4 183.8h0M1494.1 193.1h0M1496.9 185.1h0M1499.7 189.4h0M1502.4 177.1h0M1505.2 190.3h0M1508.0 180.2h0M1510.8 186.0h0M1513.5 165.1h0M1516.3 168.0h0M1519.1 177.9h0M1521.9 171.6h0M1524.6 168.9h0M1527.4 172.2h0M1530.2 164.9h0M1532.9 173.3h0M1535.7 172.8h0M1538.5 176.4h0M1541.3 167.1h0M1544.0 175.2h0M1546.8 167.7h0M1549.6 162.9h0M1552.3 170.9h0M1555.1 158.9h0M1557.9 165.9h0M1560.7 174.9h0M1563.4 174.2h0M1566.2 171.2h0M1569.0 163.7h0M1571.8 151.5h0M1574.5 155.8h0M1577.3 147.8h0M1580.1 177.2h0M1582.8 155.1h0M1585.6 161.2h0M1588.4 158.3h0M1591.2 163.6h0M1593.9 153.0h0M1596.7 159.2h0M1599.5 167.1h0M1602.2 148.3h0M1605.0 151.3h0M1607.8 145.0h0M1610.6 145.4h0M1613.3 156.0h0M1616.1 147.1h0M1618.9 164.2h0M1621.7 159.8h0M1624.4 157.5h0M1627.2 157.7h0M1630.0 157.2h0M1632.7 149.9h0M1635.5 163.6h0M1638.3 161.4h0M1641.1 152.2h0M1643.8 166.3h0M1646.6 144.6h0M1649.4 158.0h0M1652.1 152.7h0M1654.9 162.4h0M1657.7 161.6h0M1660.5 168.7h0M1663.2 158.2h0M1666.0 148.3h0M1668.8 158.7h0M1671.5 144.7h0M1674.3 141.1h0M1677.1 166.5h0M1679.9 172.7h0M1682.6 156.0h0M1685.4 163.6h0M1688.2 165.2h0M1691.0 153.2h0M1693.7 162.4h0M1696.5 162.3h0M1699.3 153.2h0M1702.0 154.2h0M1704.8 158.3h0M1707.6 163.8h0M1710.4 154.4h0M1713.1 148.0h0M1715.9 138.5h0M1718.7 165.3h0M1721.4 168.8h0M1724.2 154.3h0M1727.0 168.1h0M1729.8 147.1h0M1732.5 159.6h0M1735.3 156.5h0M1738.1 159.5h0M1740.9 146.9h0M1743.6 150.7h0M1746.4 145.4h0M1749.2 154.7h0M1751.9 174.6h0M1754.7 157.6h0M1757.5 148.1h0M1760.3 149.7h0M1763.0 153.5h0M1765.8 148.5h0M1768.6 148.3h0M1771.3 158.9h0M1774.1 171.4h0M1776.9 149.4h0M1779.7 178.4h0M1782.4 155.8h0M1785.2 161.2h0M1788.0 153.9h0M1790.8 161.9h0M1793.5 152.3h0M1796.3 165.5h0M1799.1 153.0h0M1801.8 146.1h0M1804.6 140.3h0M1807.4 156.6h0M1810.2 137.2h0M1812.9 143.3h0M1815.7 158.8h0M1818.5 172.6h0M1821.2 159.6h0M1824.0 167.2h0M1826.8 156.0h0M1829.6 151.3h0M1832.3 161.0h0M1835.1 157.6h0M1837.9 156.0h0M1840.6 135.8h0M1843.4 157.0h0M1846.2 164.1h0M1849.0 157.4h0M1851.7 164.9h0M1854.5 161.8h0M1857.3 159.5h0M1860.1 167.7h0M1862.8 163.0h0M1865.6 151.0h0M1868.4 145.1h0M1267.1 535.3h0M1269.9 532.5h0M1272.7 501.7h0M1275.5 520.9h0M1278.2 506.7h0M1281.0 505.1h0M1283.8 518.9h0M1286.6 505.7h0M1289.3 508.7h0M1292.1 499.0h0M1294.9 504.4h0M1297.6 490.9h0M1300.4 486.1h0M1303.2 490.3h0M1306.0 478.2h0M1308.7 480.1h0M1311.5 452.5h0M1314.3 478.5h0M1317.0 456.0h0M1319.8 471.1h0M1322.6 454.9h0M1325.4 455.5h0M1328.1 452.8h0M1330.9 430.6h0M1333.7 422.2h0M1336.5 419.9h0M1339.2 408.4h0M1342.0 406.3h0M1344.8 387.1h0M1347.5 396.1h0M1350.3 378.2h0M1353.1 372.5h0M1355.9 369.4h0M1358.6 352.2h0M1361.4 348.5h0M1364.2 340.7h0M1366.9 315.6h0M1369.7 323.9h0M1372.5 315.7h0M1375.3 311.1h0M1378.0 288.9h0M1380.8 280.8h0M1383.6 280.9h0M1386.3 289.6h0M1389.1 272.1h0M1391.9 262.5h0M1394.7 259.1h0M1397.4 245.0h0M1400.2 249.2h0M1403.0 258.5h0M1405.8 240.4h0M1408.5 256.8h0M1411.3 239.1h0M1414.1 232.4h0M1416.8 233.1h0M1419.6 248.1h0M1422.4 230.8h0M1425.2 218.4h0M1427.9 221.7h0M1430.7 218.2h0M1433.5 222.4h0M1436.2 228.3h0M1439.0 215.8h0M1441.8 206.0h0M1444.6 208.7h0M1447.3 210.5h0M1450.1 200.5h0M1452.9 223.2h0M1455.7 206.3h0M1458.4 204.1h0M1461.2 206.8h0M1464.0 202.1h0M1466.7 190.5h0M1469.5 183.2h0M1472.3 182.0h0M1475.1 202.4h0M1477.8 190.1h0M1480.6 190.0h0M1483.4 181.6h0M1486.1 193.6h0M1488.9 189.8h0M1491.7 195.5h0M1494.5 188.3h0M1497.2 199.6h0M1500.0 184.8h0M1502.8 190.4h0M1505.6 178.2h0M1508.3 176.5h0M1511.1 171.3h0M1513.9 181.1h0M1516.6 186.8h0M1519.4 166.3h0M1522.2 176.7h0M1525.0 173.6h0M1527.7 181.3h0M1530.5 185.0h0M1533.3 185.2h0M1536.0 178.8h0M1538.8 161.7h0M1541.6 178.5h0M1544.4 169.2h0M1547.1 180.8h0M1549.9 182.1h0M1552.7 165.1h0M1555.4 171.7h0M1558.2 167.1h0M1561.0 180.7h0M1563.8 166.8h0M1566.5 180.5h0M1569.3 155.5h0M1572.1 164.7h0M1574.9 161.1h0M1577.6 167.2h0M1580.4 167.3h0M1583.2 154.7h0M1585.9 167.5h0M1588.7 172.8h0M1591.5 160.8h0M1594.3 167.8h0M1597.0 152.2h0M1599.8 167.5h0M1602.6 158.8h0M1605.3 158.3h0M1608.1 171.1h0M1610.9 160.0h0M1613.7 150.8h0M1616.4 141.6h0M1619.2 161.0h0M1622.0 172.1h0M1624.8 161.1h0M1627.5 148.0h0M1630.3 163.6h0M1633.1 155.1h0M1635.8 156.5h0M1638.6 155.1h0M1641.4 148.8h0M1644.2 160.9h0M1646.9 160.0h0M1649.7 166.3h0M1652.5 163.1h0M1655.2 164.9h0M1658.0 157.7h0M1660.8 157.2h0M1663.6 156.2h0M1666.3 165.3h0M1669.1 147.3h0M1671.9 149.4h0M1674.7 161.3h0M1677.4 166.8h0M1680.2 162.7h0M1683.0 176.1h0M1685.7 166.8h0M1688.5 148.4h0M1691.3 163.9h0M1694.1 150.9h0M1696.8 149.7h0M1699.6 167.6h0M1702.4 159.4h0M1705.1 152.3h0M1707.9 153.0h0M1710.7 151.3h0M1713.5 146.0h0M1716.2 154.6h0M1719.0 152.4h0M1721.8 156.1h0M1724.5 155.3h0M1727.3 149.8h0M1730.1 162.2h0M1732.9 153.3h0M1735.6 144.3h0M1738.4 160.8h0M1741.2 141.4h0M1744.0 149.0h0M1746.7 149.4h0M1749.5 147.3h0M1752.3 151.5h0M1755.0 147.8h0M1757.8 154.6h0M1760.6 166.1h0M1763.4 149.0h0M1766.1 172.0h0M1768.9 159.1h0M1771.7 167.4h0M1774.4 160.4h0M1777.2 163.7h0M1780.0 155.6h0M1782.8 179.9h0M1785.5 165.0h0M1788.3 141.9h0M1791.1 157.9h0M1793.9 152.1h0M1796.6 149.7h0M1799.4 159.6h0M1802.2 152.0h0M1804.9 151.8h0M1807.7 150.1h0M1810.5 143.4h0M1813.3 145.7h0M1816.0 153.8h0M1818.8 161.7h0M1821.6 170.6h0M1824.3 140.7h0M1827.1 142.7h0M1829.9 165.9h0M1832.7 147.4h0M1835.4 152.3h0M1838.2 169.2h0M1841.0 152.6h0M1843.8 147.6h0M1846.5 158.0h0M1849.3 151.6h0M1852.1 148.6h0M1854.8 154.4h0M1857.6 145.8h0M1860.4 143.8h0M1863.2 165.8h0M1865.9 141.2h0M1868.7 155.2h0" stroke="#FF0000" stroke-width="5.2" stroke-linecap="round" fill="none"/>
<path d="M1268.9 538.1h0M1271.7 534.2h0M1274.4 529.0h0M1277.2 522.3h0M1280.0 513.3h0M1282.7 527.0h0M1285.5 511.0h0M1288.3 501.6h0M1291.1 510.6h0M1293.8 514.1h0M1296.6 497.2h0M1299.4 510.1h0M1302.2 500.6h0M1304.9 486.8h0M1307.7 489.6h0M1310.5 489.2h0M1313.2 478.9h0M1316.0 478.5h0M1318.8 471.9h0M1321.6 475.2h0M1324.3 467.0h0M1327.1 458.6h0M1329.9 445.2h0M1332.6 441.0h0M1335.4 428.6h0M1338.2 433.6h0M1341.0 437.0h0M1343.7 426.8h0M1346.5 405.1h0M1349.3 409.5h0M1352.1 415.2h0M1354.8 386.0h0M1357.6 377.6h0M1360.4 375.8h0M1363.1 377.7h0M1365.9 373.2h0M1368.7 365.4h0M1371.5 346.8h0M1374.2 344.0h0M1377.0 330.9h0M1379.8 320.7h0M1382.5 314.3h0M1385.3 314.6h0M1388.1 310.8h0M1390.9 296.4h0M1393.6 287.8h0M1396.4 302.3h0M1399.2 291.9h0M1401.9 289.2h0M1404.7 284.8h0M1407.5 284.5h0M1410.3 272.6h0M1413.0 272.4h0M1415.8 274.8h0M1418.6 272.1h0M1421.4 272.6h0M1424.1 268.8h0M1426.9 253.2h0M1429.7 265.6h0M1432.4 254.7h0M1435.2 250.7h0M1438.0 243.0h0M1440.8 231.4h0M1443.5 242.2h0M1446.3 232.9h0M1449.1 229.6h0M1451.8 234.0h0M1454.6 229.5h0M1457.4 226.6h0M1460.2 221.8h0M1462.9 220.5h0M1465.7 219.1h0M1468.5 211.7h0M1471.3 227.0h0M1474.0 221.4h0M1476.8 213.8h0M1479.6 203.9h0M1482.3 217.7h0M1485.1 214.3h0M1487.9 204.6h0M1490.7 204.2h0M1493.4 203.5h0M1496.2 205.1h0M1499.0 207.7h0M1501.7 199.7h0M1504.5 188.8h0M1507.3 191.5h0M1510.1 183.7h0M1512.8 196.1h0M1515.6 199.2h0M1518.4 190.8h0M1521.2 189.3h0M1523.9 176.3h0M1526.7 185.4h0M1529.5 175.1h0M1532.2 183.9h0M1535.0 169.5h0M1537.8 184.5h0M1540.6 188.1h0M1543.3 175.6h0M1546.1 176.4h0M1548.9 177.4h0M1551.6 173.0h0M1554.4 163.0h0M1557.2 170.4h0M1560.0 172.9h0M1562.7 186.4h0M1565.5 175.3h0M1568.3 171.0h0M1571.1 180.7h0M1573.8 166.3h0M1576.6 159.0h0M1579.4 164.5h0M1582.1 168.2h0M1584.9 169.6h0M1587.7 148.7h0M1590.5 153.2h0M1593.2 163.4h0M1596.0 168.0h0M1598.8 167.5h0M1601.5 153.0h0M1604.3 156.5h0M1607.1 161.3h0M1609.9 144.2h0M1612.6 149.1h0M1615.4 159.9h0M1618.2 153.8h0M1620.9 154.9h0M1623.7 160.4h0M1626.5 154.4h0M1629.3 153.8h0M1632.0 154.5h0M1634.8 150.4h0M1637.6 145.6h0M1640.4 153.9h0M1643.1 153.1h0M1645.9 156.6h0M1648.7 144.1h0M1651.4 162.2h0M1654.2 160.1h0M1657.0 147.8h0M1659.8 145.2h0M1662.5 138.0h0M1665.3 150.2h0M1668.1 141.0h0M1670.8 150.6h0M1673.6 148.1h0M1676.4 147.1h0M1679.2 142.5h0M1681.9 153.0h0M1684.7 152.0h0M1687.5 140.8h0M1690.3 145.7h0M1693.0 142.6h0M1695.8 146.3h0M1698.6 137.3h0M1701.3 135.5h0M1704.1 146.5h0M1706.9 136.1h0M1709.7 137.2h0M1712.4 137.4h0M1715.2 138.0h0M1718.0 144.9h0M1720.7 145.0h0M1723.5 142.8h0M1726.3 140.6h0M1729.1 161.0h0M1731.8 136.6h0M1734.6 130.4h0M1737.4 144.5h0M1740.2 134.0h0M1742.9 139.3h0M1745.7 138.3h0M1748.5 126.4h0M1751.2 135.0h0M1754.0 137.8h0M1756.8 137.9h0M1759.6 147.6h0M1762.3 141.0h0M1765.1 136.4h0M1767.9 142.8h0M1770.6 150.5h0M1773.4 130.6h0M1776.2 137.3h0M1779.0 143.5h0M1781.7 140.1h0M1784.5 133.0h0M1787.3 140.7h0M1790.0 136.1h0M1792.8 134.1h0M1795.6 133.1h0M1798.4 124.0h0M1801.1 122.3h0M1803.9 151.6h0M1806.7 129.9h0M1809.5 133.3h0M1812.2 137.5h0M1815.0 136.5h0M1817.8 144.3h0M1820.5 139.5h0M1823.3 142.1h0M1826.1 137.8h0M1828.9 141.3h0M1831.6 129.3h0M1834.4 128.4h0M1837.2 136.7h0M1839.9 146.5h0M1842.7 131.7h0M1845.5 135.7h0M1848.3 133.5h0M1851.0 129.9h0M1853.8 133.3h0M1856.6 125.5h0M1859.4 144.8h0M1862.1 139.0h0M1864.9 129.7h0M1867.7 127.4h0M1267.0 533.5h0M1269.8 530.0h0M1272.5 524.0h0M1275.3 534.3h0M1278.1 522.6h0M1280.9 520.2h0M1283.6 521.1h0M1286.4 513.1h0M1289.2 515.8h0M1291.9 527.8h0M1294.7 513.6h0M1297.5 512.6h0M1300.3 495.0h0M1303.0 501.0h0M1305.8 496.4h0M1308.6 493.4h0M1311.4 488.9h0M1314.1 478.8h0M1316.9 493.8h0M1319.7 460.9h0M1322.4 486.9h0M1325.2 470.0h0M1328.0 464.1h0M1330.8 467.6h0M1333.5 458.2h0M1336.3 437.9h0M1339.1 445.2h0M1341.8 443.0h0M1344.6 430.8h0M1347.4 424.0h0M1350.2 415.1h0M1352.9 413.9h0M1355.7 403.1h0M1358.5 393.0h0M1361.2 387.9h0M1364.0 379.7h0M1366.8 368.3h0M1369.6 355.5h0M1372.3 354.3h0M1375.1 343.4h0M1377.9 331.9h0M1380.7 332.6h0M1383.4 323.8h0M1386.2 321.4h0M1389.0 332.8h0M1391.7 307.0h0M1394.5 306.2h0M1397.3 299.9h0M1400.1 292.6h0M1402.8 294.4h0M1405.6 288.5h0M1408.4 283.7h0M1411.1 283.5h0M1413.9 275.7h0M1416.7 276.9h0M1419.5 265.3h0M1422.2 271.4h0M1425.0 263.2h0M1427.8 270.6h0M1430.6 264.4h0M1433.3 255.0h0M1436.1 244.0h0M1438.9 258.4h0M1441.6 237.2h0M1444.4 233.6h0M1447.2 245.6h0M1450.0 233.8h0M1452.7 247.1h0M1455.5 242.2h0M1458.3 231.1h0M1461.0 223.4h0M1463.8 223.6h0M1466.6 231.1h0M1469.4 231.1h0M1472.1 219.7h0M1474.9 207.3h0M1477.7 226.8h0M1480.5 216.3h0M1483.2 225.1h0M1486.0 219.9h0M1488.8 209.2h0M1491.5 206.8h0M1494.3 214.5h0M1497.1 197.9h0M1499.9 211.1h0M1502.6 200.5h0M1505.4 207.4h0M1508.2 204.4h0M1510.9 189.8h0M1513.7 198.2h0M1516.5 201.0h0M1519.3 205.6h0M1522.0 182.2h0M1524.8 190.1h0M1527.6 190.2h0M1530.3 187.6h0M1533.1 185.7h0M1535.9 182.5h0M1538.7 187.2h0M1541.4 193.3h0M1544.2 180.8h0M1547.0 184.8h0M1549.8 178.2h0M1552.5 178.6h0M1555.3 171.0h0M1558.1 172.8h0M1560.8 170.0h0M1563.6 178.4h0M1566.4 173.0h0M1569.2 165.7h0M1571.9 178.1h0M1574.7 169.9h0M1577.5 170.7h0M1580.2 173.0h0M1583.0 171.9h0M1585.8 155.6h0M1588.6 160.1h0M1591.3 161.6h0M1594.1 152.6h0M1596.9 165.9h0M1599.7 160.4h0M1602.4 152.1h0M1605.2 147.4h0M1608.0 161.7h0M1610.7 148.8h0M1613.5 158.4h0M1616.3 141.2h0M1619.1 158.0h0M1621.8 158.2h0M1624.6 166.3h0M1627.4 149.4h0M1630.1 147.4h0M1632.9 158.1h0M1635.7 162.8h0M1638.5 156.0h0M1641.2 155.0h0M1644.0 149.2h0M1646.8 150.8h0M1649.6 156.0h0M1652.3 137.4h0M1655.1 140.5h0M1657.9 135.2h0M1660.6 136.8h0M1663.4 151.8h0M1666.2 141.2h0M1669.0 138.1h0M1671.7 157.3h0M1674.5 146.9h0M1677.3 145.9h0M1680.0 139.7h0M1682.8 136.9h0M1685.6 146.2h0M1688.4 127.4h0M1691.1 141.7h0M1693.9 135.1h0M1696.7 143.1h0M1699.4 137.4h0M1702.2 134.8h0M1705.0 148.6h0M1707.8 157.1h0M1710.5 142.9h0M1713.3 145.6h0M1716.1 130.9h0M1718.9 153.1h0M1721.6 139.3h0M1724.4 149.8h0M1727.2 149.2h0M1729.9 139.9h0M1732.7 148.7h0M1735.5 140.1h0M1738.3 149.5h0M1741.0 138.6h0M1743.8 148.3h0M1746.6 146.1h0M1749.3 149.9h0M1752.1 136.7h0M1754.9 135.7h0M1757.7 147.8h0M1760.4 141.1h0M1763.2 131.6h0M1766.0 132.0h0M1768.8 130.7h0M1771.5 130.3h0M1774.3 126.4h0M1777.1 138.5h0M1779.8 135.2h0M1782.6 146.7h0M1785.4 135.8h0M1788.2 136.3h0M1790.9 134.1h0M1793.7 137.2h0M1796.5 126.1h0M1799.2 142.8h0M1802.0 137.6h0M1804.8 133.0h0M1807.6 132.3h0M1810.3 139.6h0M1813.1 134.9h0M1815.9 142.5h0M1818.7 138.8h0M1821.4 134.9h0M1824.2 131.8h0M1827.0 130.8h0M1829.7 135.2h0M1832.5 138.4h0M1835.3 137.9h0M1838.1 139.1h0M1840.8 115.5h0M1843.6 128.2h0M1846.4 122.2h0M1849.1 127.7h0M1851.9 131.0h0M1854.7 128.3h0M1857.5 141.9h0M1860.2 127.9h0M1863.0 129.3h0M1865.8 134.8h0M1868.5 140.9h0M1267.7 533.0h0M1270.4 528.5h0M1273.2 520.4h0M1276.0 518.9h0M1278.7 526.0h0M1281.5 507.1h0M1284.3 513.4h0M1287.1 515.6h0M1289.8 514.9h0M1292.6 510.3h0M1295.4 502.9h0M1298.2 499.7h0M1300.9 500.9h0M1303.7 506.0h0M1306.5 495.5h0M1309.2 502.3h0M1312.0 469.6h0M1314.8 473.5h0M1317.6 468.7h0M1320.3 480.9h0M1323.1 473.6h0M1325.9 477.1h0M1328.6 476.1h0M1331.4 467.2h0M1334.2 455.2h0M1337.0 453.9h0M1339.7 458.1h0M1342.5 440.8h0M1345.3 421.2h0M1348.1 405.4h0M1350.8 423.7h0M1353.6 400.7h0M1356.4 405.8h0M1359.1 393.5h0M1361.9 397.2h0M1364.7 384.8h0M1367.5 365.1h0M1370.2 366.4h0M1373.0 353.8h0M1375.8 351.4h0M1378.5 344.8h0M1381.3 344.3h0M1384.1 338.6h0M1386.9 317.2h0M1389.6 322.8h0M1392.4 314.5h0M1395.2 318.2h0M1398.0 291.8h0M1400.7 305.2h0M1403.5 300.0h0M1406.3 285.8h0M1409.0 293.8h0M1411.8 273.6h0M1414.6 288.5h0M1417.4 275.7h0M1420.1 279.3h0M1422.9 269.5h0M1425.7 277.5h0M1428.4 265.9h0M1431.2 249.9h0M1434.0 260.1h0M1436.8 259.1h0M1439.5 250.7h0M1442.3 246.9h0M1445.1 262.2h0M1447.8 255.7h0M1450.6 235.4h0M1453.4 240.1h0M1456.2 231.9h0M1458.9 227.4h0M1461.7 237.8h0M1464.5 227.4h0M1467.3 234.1h0M1470.0 226.1h0M1472.8 227.8h0M1475.6 229.0h0M1478.3 219.6h0M1481.1 223.4h0M1483.9 228.4h0M1486.7 213.2h0M1489.4 214.7h0M1492.2 211.4h0M1495.0 210.1h0M1497.7 209.8h0M1500.5 206.8h0M1503.3 211.3h0M1506.1 198.0h0M1508.8 200.6h0M1511.6 182.8h0M1514.4 203.0h0M1517.2 192.9h0M1519.9 195.7h0M1522.7 193.0h0M1525.5 190.4h0M1528.2 183.3h0M1531.0 182.5h0M1533.8 191.1h0M1536.6 179.4h0M1539.3 191.8h0M1542.1 190.0h0M1544.9 187.5h0M1547.6 190.5h0M1550.4 189.6h0M1553.2 180.8h0M1556.0 172.1h0M1558.7 179.6h0M1561.5 173.0h0M1564.3 185.0h0M1567.1 178.1h0M1569.8 170.6h0M1572.6 179.6h0M1575.4 165.0h0M1578.1 172.3h0M1580.9 169.7h0M1583.7 176.1h0M1586.5 168.9h0M1589.2 158.8h0M1592.0 172.9h0M1594.8 160.3h0M1597.5 169.1h0M1600.3 166.9h0M1603.1 159.8h0M1605.9 165.2h0M1608.6 161.6h0M1611.4 148.7h0M1614.2 158.5h0M1616.9 166.8h0M1619.7 144.9h0M1622.5 155.8h0M1625.3 158.5h0M1628.0 154.5h0M1630.8 157.4h0M1633.6 147.6h0M1636.4 155.6h0M1639.1 155.8h0M1641.9 148.3h0M1644.7 152.2h0M1647.4 148.3h0M1650.2 147.9h0M1653.0 154.2h0M1655.8 146.3h0M1658.5 149.9h0M1661.3 157.0h0M1664.1 146.9h0M1666.8 151.3h0M1669.6 149.3h0M1672.4 149.0h0M1675.2 134.6h0M1677.9 148.7h0M1680.7 140.6h0M1683.5 149.6h0M1686.3 149.0h0M1689.0 150.9h0M1691.8 138.5h0M1694.6 136.5h0M1697.3 140.4h0M1700.1 143.5h0M1702.9 138.5h0M1705.7 141.9h0M1708.4 149.9h0M1711.2 155.3h0M1714.0 149.3h0M1716.7 137.8h0M1719.5 128.1h0M1722.3 145.2h0M1725.1 139.5h0M1727.8 140.7h0M1730.6 134.0h0M1733.4 142.6h0M1736.2 125.8h0M1738.9 127.9h0M1741.7 145.7h0M1744.5 139.9h0M1747.2 137.0h0M1750.0 142.1h0M1752.8 149.7h0M1755.6 133.9h0M1758.3 136.4h0M1761.1 133.3h0M1763.9 134.5h0M1766.6 136.3h0M1769.4 125.9h0M1772.2 129.2h0M1775.0 142.5h0M1777.7 131.0h0M1780.5 140.5h0M1783.3 121.8h0M1786.0 133.5h0M1788.8 125.4h0M1791.6 132.6h0M1794.4 128.1h0M1797.1 123.2h0M1799.9 138.9h0M1802.7 140.5h0M1805.5 134.2h0M1808.2 147.6h0M1811.0 136.1h0M1813.8 130.0h0M1816.5 147.3h0M1819.3 131.2h0M1822.1 134.4h0M1824.9 139.1h0M1827.6 144.0h0M1830.4 137.0h0M1833.2 138.0h0M1835.9 129.5h0M1838.7 129.9h0M1841.5 138.9h0M1844.3 121.7h0M1847.0 130.7h0M1849.8 139.8h0M1852.6 126.8h0M1855.4 142.7h0M1858.1 139.0h0M1860.9 134.2h0M1863.7 126.2h0M1866.4 138.1h0M1869.2 133.0h0" stroke="#0000FF" stroke-width="5.2" stroke-linecap="round" fill="none"/>
<path d="M1268.7 541.6h0M1271.5 535.2h0M1274.3 525.4h0M1277.0 528.7h0M1279.8 529.8h0M1282.6 529.9h0M1285.3 526.3h0M1288.1 521.6h0M1290.9 513.4h0M1293.7 523.7h0M1296.4 515.7h0M1299.2 515.4h0M1302.0 497.4h0M1304.7 501.0h0M1307.5 502.1h0M1310.3 495.9h0M1313.1 494.6h0M1315.8 487.6h0M1318.6 484.1h0M1321.4 480.7h0M1324.1 476.2h0M1326.9 483.1h0M1329.7 478.3h0M1332.5 467.1h0M1335.2 460.5h0M1338.0 467.5h0M1340.8 459.3h0M1343.6 450.9h0M1346.3 437.0h0M1349.1 442.2h0M1351.9 430.1h0M1354.6 430.1h0M1357.4 425.4h0M1360.2 418.0h0M1363.0 413.4h0M1365.7 393.5h0M1368.5 410.4h0M1371.3 399.4h0M1374.0 382.5h0M1376.8 377.8h0M1379.6 374.2h0M1382.4 368.1h0M1385.1 357.1h0M1387.9 364.8h0M1390.7 345.5h0M1393.5 333.6h0M1396.2 350.3h0M1399.0 338.1h0M1401.8 333.7h0M1404.5 329.7h0M1407.3 329.2h0M1410.1 320.2h0M1412.9 312.2h0M1415.6 310.6h0M1418.4 297.1h0M1421.2 299.6h0M1423.9 304.3h0M1426.7 296.7h0M1429.5 295.9h0M1432.3 287.6h0M1435.0 289.5h0M1437.8 280.1h0M1440.6 288.5h0M1443.4 278.0h0M1446.1 275.4h0M1448.9 274.3h0M1451.7 274.9h0M1454.4 266.6h0M1457.2 260.7h0M1460.0 264.7h0M1462.8 258.0h0M1465.5 246.5h0M1468.3 253.2h0M1471.1 245.8h0M1473.8 256.6h0M1476.6 260.5h0M1479.4 252.4h0M1482.2 238.9h0M1484.9 242.9h0M1487.7 238.2h0M1490.5 230.2h0M1493.2 244.7h0M1496.0 230.2h0M1498.8 231.8h0M1501.6 227.9h0M1504.3 227.3h0M1507.1 214.5h0M1509.9 219.0h0M1512.7 223.9h0M1515.4 224.3h0M1518.2 210.5h0M1521.0 215.3h0M1523.7 220.6h0M1526.5 219.2h0M1529.3 215.9h0M1532.1 207.0h0M1534.8 202.8h0M1537.6 208.7h0M1540.4 204.7h0M1543.1 205.1h0M1545.9 202.4h0M1548.7 209.3h0M1551.5 200.4h0M1554.2 186.1h0M1557.0 185.8h0M1559.8 192.5h0M1562.6 183.7h0M1565.3 185.3h0M1568.1 180.7h0M1570.9 190.8h0M1573.6 178.9h0M1576.4 174.8h0M1579.2 186.9h0M1582.0 166.1h0M1584.7 168.7h0M1587.5 168.4h0M1590.3 175.0h0M1593.0 163.6h0M1595.8 173.0h0M1598.6 173.5h0M1601.4 171.1h0M1604.1 159.9h0M1606.9 173.9h0M1609.7 172.9h0M1612.5 173.8h0M1615.2 162.0h0M1618.0 164.7h0M1620.8 167.3h0M1623.5 168.4h0M1626.3 168.9h0M1629.1 163.4h0M1631.9 162.7h0M1634.6 167.9h0M1637.4 162.7h0M1640.2 158.5h0M1642.9 158.5h0M1645.7 162.6h0M1648.5 151.5h0M1651.3 166.3h0M1654.0 153.8h0M1656.8 163.0h0M1659.6 162.0h0M1662.3 143.8h0M1665.1 162.4h0M1667.9 144.8h0M1670.7 145.8h0M1673.4 142.1h0M1676.2 142.3h0M1679.0 141.8h0M1681.8 150.6h0M1684.5 154.1h0M1687.3 141.7h0M1690.1 161.0h0M1692.8 154.3h0M1695.6 143.8h0M1698.4 141.2h0M1701.2 152.2h0M1703.9 146.1h0M1706.7 154.0h0M1709.5 142.0h0M1712.2 153.2h0M1715.0 135.2h0M1717.8 156.0h0M1720.6 171.2h0M1723.3 139.3h0M1726.1 148.4h0M1728.9 139.8h0M1731.7 149.1h0M1734.4 149.9h0M1737.2 135.8h0M1740.0 142.0h0M1742.7 141.4h0M1745.5 138.7h0M1748.3 144.4h0M1751.1 149.6h0M1753.8 144.4h0M1756.6 154.6h0M1759.4 146.2h0M1762.1 138.9h0M1764.9 144.9h0M1767.7 133.3h0M1770.5 140.1h0M1773.2 149.9h0M1776.0 146.1h0M1778.8 138.2h0M1781.6 157.6h0M1784.3 146.6h0M1787.1 137.1h0M1789.9 136.7h0M1792.6 129.6h0M1795.4 135.3h0M1798.2 139.5h0M1801.0 142.9h0M1803.7 139.4h0M1806.5 133.1h0M1809.3 133.2h0M1812.0 142.5h0M1814.8 147.8h0M1817.6 154.8h0M1820.4 142.9h0M1823.1 130.3h0M1825.9 138.1h0M1828.7 141.4h0M1831.4 125.5h0M1834.2 138.0h0M1837.0 131.8h0M1839.8 138.2h0M1842.5 138.5h0M1845.3 134.0h0M1848.1 136.6h0M1850.9 140.1h0M1853.6 146.5h0M1856.4 139.3h0M1859.2 136.0h0M1861.9 140.9h0M1864.7 137.5h0M1867.5 149.7h0M1268.9 533.9h0M1271.7 525.9h0M1274.5 541.8h0M1277.2 539.9h0M1280.0 537.5h0M1282.8 533.7h0M1285.5 525.0h0M1288.3 520.8h0M1291.1 506.3h0M1293.9 531.1h0M1296.6 505.5h0M1299.4 510.8h0M1302.2 513.4h0M1304.9 511.6h0M1307.7 502.4h0M1310.5 502.0h0M1313.3 484.0h0M1316.0 494.0h0M1318.8 478.7h0M1321.6 486.9h0M1324.4 481.1h0M1327.1 472.2h0M1329.9 471.9h0M1332.7 466.4h0M1335.4 472.2h0M1338.2 462.5h0M1341.0 450.8h0M1343.8 456.7h0M1346.5 444.3h0M1349.3 443.0h0M1352.1 436.0h0M1354.8 434.0h0M1357.6 424.7h0M1360.4 427.7h0M1363.2 412.5h0M1365.9 399.0h0M1368.7 402.9h0M1371.5 395.9h0M1374.2 382.2h0M1377.0 384.1h0M1379.8 378.7h0M1382.6 378.4h0M1385.3 365.2h0M1388.1 353.6h0M1390.9 370.9h0M1393.7 347.3h0M1396.4 342.3h0M1399.2 344.7h0M1402.0 334.7h0M1404.7 329.9h0M1407.5 319.7h0M1410.3 323.4h0M1413.1 318.2h0M1415.8 320.5h0M1418.6 313.0h0M1421.4 304.6h0M1424.1 307.0h0M1426.9 294.3h0M1429.7 300.0h0M1432.5 294.8h0M1435.2 292.5h0M1438.0 296.2h0M1440.8 277.0h0M1443.6 283.4h0M1446.3 279.2h0M1449.1 266.3h0M1451.9 275.1h0M1454.6 266.5h0M1457.4 279.8h0M1460.2 260.2h0M1463.0 279.3h0M1465.7 255.2h0M1468.5 256.8h0M1471.3 256.6h0M1474.0 250.9h0M1476.8 255.6h0M1479.6 249.5h0M1482.4 252.5h0M1485.1 242.7h0M1487.9 230.6h0M1490.7 235.2h0M1493.5 227.6h0M1496.2 237.0h0M1499.0 227.5h0M1501.8 240.2h0M1504.5 233.8h0M1507.3 230.4h0M1510.1 221.8h0M1512.9 220.0h0M1515.6 226.3h0M1518.4 223.8h0M1521.2 221.0h0M1523.9 216.6h0M1526.7 214.7h0M1529.5 219.8h0M1532.3 216.5h0M1535.0 217.3h0M1537.8 202.1h0M1540.6 203.6h0M1543.3 203.4h0M1546.1 211.0h0M1548.9 209.3h0M1551.7 199.0h0M1554.4 195.1h0M1557.2 195.4h0M1560.0 195.9h0M1562.8 195.2h0M1565.5 181.0h0M1568.3 182.5h0M1571.1 196.9h0M1573.8 187.8h0M1576.6 183.7h0M1579.4 186.6h0M1582.2 180.9h0M1584.9 172.5h0M1587.7 180.5h0M1590.5 161.0h0M1593.2 174.9h0M1596.0 176.3h0M1598.8 164.9h0M1601.6 169.6h0M1604.3 176.2h0M1607.1 175.1h0M1609.9 170.3h0M1612.7 158.8h0M1615.4 165.7h0M1618.2 165.0h0M1621.0 170.5h0M1623.7 158.7h0M1626.5 173.9h0M1629.3 158.9h0M1632.1 175.6h0M1634.8 160.9h0M1637.6 149.1h0M1640.4 165.5h0M1643.1 156.0h0M1645.9 158.9h0M1648.7 157.0h0M1651.5 159.5h0M1654.2 165.4h0M1657.0 156.8h0M1659.8 148.5h0M1662.6 156.0h0M1665.3 147.5h0M1668.1 154.3h0M1670.9 151.2h0M1673.6 165.3h0M1676.4 143.9h0M1679.2 147.9h0M1682.0 133.5h0M1684.7 150.7h0M1687.5 133.1h0M1690.3 148.1h0M1693.0 154.4h0M1695.8 151.4h0M1698.6 162.2h0M1701.4 151.6h0M1704.1 152.6h0M1706.9 161.7h0M1709.7 142.8h0M1712.4 139.4h0M1715.2 141.3h0M1718.0 144.7h0M1720.8 135.8h0M1723.5 144.2h0M1726.3 142.4h0M1729.1 152.2h0M1731.9 146.5h0M1734.6 149.7h0M1737.4 130.4h0M1740.2 149.4h0M1742.9 128.6h0M1745.7 144.2h0M1748.5 145.5h0M1751.3 151.5h0M1754.0 142.6h0M1756.8 143.8h0M1759.6 140.6h0M1762.3 133.9h0M1765.1 158.8h0M1767.9 135.7h0M1770.7 139.7h0M1773.4 147.0h0M1776.2 144.3h0M1779.0 147.8h0M1781.8 138.8h0M1784.5 148.9h0M1787.3 140.0h0M1790.1 147.4h0M1792.8 135.6h0M1795.6 132.6h0M1798.4 139.6h0M1801.2 141.9h0M1803.9 151.1h0M1806.7 135.6h0M1809.5 141.6h0M1812.2 140.5h0M1815.0 135.0h0M1817.8 141.9h0M1820.6 145.5h0M1823.3 136.8h0M1826.1 143.1h0M1828.9 129.1h0M1831.7 137.9h0M1834.4 134.3h0M1837.2 148.4h0M1840.0 127.0h0M1842.7 136.1h0M1845.5 133.0h0M1848.3 142.0h0M1851.1 131.1h0M1853.8 143.5h0M1856.6 130.4h0M1859.4 135.7h0M1862.1 145.3h0M1864.9 143.0h0M1867.7 133.8h0M1267.3 531.8h0M1270.0 533.5h0M1272.8 534.9h0M1275.6 536.4h0M1278.3 529.5h0M1281.1 539.6h0M1283.9 518.5h0M1286.7 518.8h0M1289.4 523.0h0M1292.2 523.4h0M1295.0 511.2h0M1297.8 501.2h0M1300.5 509.2h0M1303.3 509.5h0M1306.1 509.5h0M1308.8 502.6h0M1311.6 489.2h0M1314.4 496.1h0M1317.2 491.6h0M1319.9 494.9h0M1322.7 480.8h0M1325.5 488.0h0M1328.2 471.4h0M1331.0 468.1h0M1333.8 472.3h0M1336.6 470.2h0M1339.3 462.3h0M1342.1 452.7h0M1344.9 453.0h0M1347.6 444.8h0M1350.4 434.4h0M1353.2 437.3h0M1356.0 433.1h0M1358.7 418.9h0M1361.5 414.9h0M1364.3 422.5h0M1367.1 397.9h0M1369.8 409.1h0M1372.6 387.9h0M1375.4 387.5h0M1378.1 370.3h0M1380.9 388.3h0M1383.7 371.5h0M1386.5 364.8h0M1389.2 365.2h0M1392.0 349.5h0M1394.8 338.0h0M1397.5 346.4h0M1400.3 352.8h0M1403.1 339.0h0M1405.9 333.1h0M1408.6 328.6h0M1411.4 339.3h0M1414.2 323.9h0M1417.0 312.8h0M1419.7 313.4h0M1422.5 312.7h0M1425.3 316.5h0M1428.0 294.7h0M1430.8 304.0h0M1433.6 301.0h0M1436.4 304.6h0M1439.1 306.3h0M1441.9 295.1h0M1444.7 288.0h0M1447.4 286.3h0M1450.2 280.6h0M1453.0 276.9h0M1455.8 263.0h0M1458.5 273.3h0M1461.3 271.8h0M1464.1 271.7h0M1466.9 256.4h0M1469.6 269.2h0M1472.4 256.8h0M1475.2 250.9h0M1477.9 262.3h0M1480.7 247.6h0M1483.5 262.3h0M1486.3 247.5h0M1489.0 256.5h0M1491.8 250.2h0M1494.6 242.0h0M1497.3 237.5h0M1500.1 239.6h0M1502.9 244.2h0M1505.7 234.6h0M1508.4 233.5h0M1511.2 237.0h0M1514.0 217.0h0M1516.7 232.3h0M1519.5 233.6h0M1522.3 214.1h0M1525.1 221.1h0M1527.8 212.2h0M1530.6 215.2h0M1533.4 208.8h0M1536.2 216.7h0M1538.9 209.9h0M1541.7 199.8h0M1544.5 210.1h0M1547.2 204.4h0M1550.0 203.4h0M1552.8 196.3h0M1555.6 188.4h0M1558.3 196.8h0M1561.1 190.7h0M1563.9 195.0h0M1566.6 195.4h0M1569.4 185.8h0M1572.2 173.2h0M1575.0 196.1h0M1577.7 185.6h0M1580.5 181.9h0M1583.3 182.5h0M1586.1 189.1h0M1588.8 174.0h0M1591.6 171.0h0M1594.4 183.1h0M1597.1 182.6h0M1599.9 166.7h0M1602.7 172.2h0M1605.5 174.1h0M1608.2 173.5h0M1611.0 172.9h0M1613.8 163.1h0M1616.5 165.5h0M1619.3 180.3h0M1622.1 179.7h0M1624.9 170.9h0M1627.6 164.1h0M1630.4 168.0h0M1633.2 165.7h0M1636.0 173.7h0M1638.7 164.4h0M1641.5 173.9h0M1644.3 162.3h0M1647.0 167.2h0M1649.8 172.5h0M1652.6 164.7h0M1655.4 151.2h0M1658.1 164.2h0M1660.9 149.1h0M1663.7 153.1h0M1666.4 165.1h0M1669.2 160.2h0M1672.0 149.6h0M1674.8 143.7h0M1677.5 152.3h0M1680.3 158.8h0M1683.1 144.7h0M1685.8 149.7h0M1688.6 146.7h0M1691.4 141.7h0M1694.2 151.1h0M1696.9 148.9h0M1699.7 137.0h0M1702.5 148.5h0M1705.3 139.9h0M1708.0 139.2h0M1710.8 141.2h0M1713.6 154.7h0M1716.3 150.5h0M1719.1 147.6h0M1721.9 149.7h0M1724.7 146.7h0M1727.4 140.4h0M1730.2 143.1h0M1733.0 145.0h0M1735.7 141.0h0M1738.5 140.0h0M1741.3 151.4h0M1744.1 137.4h0M1746.8 130.8h0M1749.6 128.9h0M1752.4 142.3h0M1755.2 149.1h0M1757.9 141.0h0M1760.7 148.2h0M1763.5 137.8h0M1766.2 139.1h0M1769.0 136.1h0M1771.8 138.7h0M1774.6 134.0h0M1777.3 149.1h0M1780.1 141.5h0M1782.9 149.5h0M1785.6 138.9h0M1788.4 126.5h0M1791.2 141.1h0M1794.0 135.1h0M1796.7 133.6h0M1799.5 139.9h0M1802.3 143.1h0M1805.1 136.9h0M1807.8 141.3h0M1810.6 149.7h0M1813.4 143.8h0M1816.1 130.1h0M1818.9 139.4h0M1821.7 135.4h0M1824.5 137.1h0M1827.2 137.0h0M1830.0 141.1h0M1832.8 132.6h0M1835.5 142.6h0M1838.3 131.9h0M1841.1 132.0h0M1843.9 141.6h0M1846.6 135.9h0M1849.4 122.1h0M1852.2 143.6h0M1854.9 148.4h0M1857.7 141.4h0M1860.5 145.7h0M1863.3 142.0h0M1866.0 142.0h0M1868.8 151.4h0" stroke="#0080FF" stroke-width="5.2" stroke-linecap="round" fill="none"/>
<path d="M1267.1 524.9h0M1269.8 535.0h0M1272.6 534.3h0M1275.4 532.4h0M1278.1 529.2h0M1280.9 522.7h0M1283.7 527.0h0M1286.5 529.7h0M1289.2 521.4h0M1292.0 518.5h0M1294.8 514.6h0M1297.6 518.8h0M1300.3 515.3h0M1303.1 494.8h0M1305.9 508.3h0M1308.6 514.4h0M1311.4 502.5h0M1314.2 501.2h0M1317.0 493.4h0M1319.7 509.6h0M1322.5 487.9h0M1325.3 487.2h0M1328.0 492.5h0M1330.8 488.4h0M1333.6 475.1h0M1336.4 477.4h0M1339.1 471.3h0M1341.9 459.0h0M1344.7 464.2h0M1347.5 454.8h0M1350.2 453.9h0M1353.0 449.4h0M1355.8 439.0h0M1358.5 438.4h0M1361.3 420.8h0M1364.1 424.4h0M1366.9 435.3h0M1369.6 413.2h0M1372.4 401.2h0M1375.2 405.4h0M1377.9 410.8h0M1380.7 390.6h0M1383.5 384.7h0M1386.3 375.0h0M1389.0 373.7h0M1391.8 365.5h0M1394.6 354.8h0M1397.3 369.0h0M1400.1 351.2h0M1402.9 347.6h0M1405.7 353.4h0M1408.4 339.0h0M1411.2 338.5h0M1414.0 332.7h0M1416.8 323.4h0M1419.5 327.4h0M1422.3 314.9h0M1425.1 315.5h0M1427.8 315.7h0M1430.6 309.3h0M1433.4 310.0h0M1436.2 301.2h0M1438.9 303.2h0M1441.7 292.8h0M1444.5 292.4h0M1447.2 287.2h0M1450.0 288.7h0M1452.8 289.9h0M1455.6 284.8h0M1458.3 280.7h0M1461.1 285.0h0M1463.9 273.6h0M1466.7 272.1h0M1469.4 268.5h0M1472.2 267.7h0M1475.0 257.2h0M1477.7 263.8h0M1480.5 261.4h0M1483.3 256.9h0M1486.1 251.8h0M1488.8 251.9h0M1491.6 253.0h0M1494.4 235.7h0M1497.1 248.1h0M1499.9 243.7h0M1502.7 229.3h0M1505.5 230.1h0M1508.2 232.1h0M1511.0 231.2h0M1513.8 237.3h0M1516.6 222.3h0M1519.3 218.9h0M1522.1 227.6h0M1524.9 226.1h0M1527.6 213.4h0M1530.4 209.8h0M1533.2 207.2h0M1536.0 213.4h0M1538.7 209.0h0M1541.5 201.7h0M1544.3 209.8h0M1547.0 212.8h0M1549.8 208.7h0M1552.6 201.2h0M1555.4 209.9h0M1558.1 209.3h0M1560.9 214.4h0M1563.7 193.4h0M1566.4 189.2h0M1569.2 204.0h0M1572.0 184.7h0M1574.8 176.5h0M1577.5 191.1h0M1580.3 184.8h0M1583.1 183.3h0M1585.9 189.8h0M1588.6 181.7h0M1591.4 192.1h0M1594.2 180.2h0M1596.9 176.3h0M1599.7 176.6h0M1602.5 170.5h0M1605.3 170.1h0M1608.0 174.5h0M1610.8 167.1h0M1613.6 182.7h0M1616.3 175.3h0M1619.1 174.5h0M1621.9 162.5h0M1624.7 166.4h0M1627.4 166.3h0M1630.2 163.5h0M1633.0 168.3h0M1635.8 168.0h0M1638.5 168.1h0M1641.3 161.7h0M1644.1 177.4h0M1646.8 157.4h0M1649.6 168.6h0M1652.4 161.0h0M1655.2 156.6h0M1657.9 160.1h0M1660.7 166.5h0M1663.5 151.7h0M1666.2 162.9h0M1669.0 156.8h0M1671.8 156.0h0M1674.6 152.7h0M1677.3 156.1h0M1680.1 162.8h0M1682.9 139.2h0M1685.7 148.5h0M1688.4 157.5h0M1691.2 144.9h0M1694.0 154.5h0M1696.7 164.5h0M1699.5 145.0h0M1702.3 143.4h0M1705.1 156.8h0M1707.8 149.3h0M1710.6 143.5h0M1713.4 153.7h0M1716.1 144.0h0M1718.9 142.1h0M1721.7 148.2h0M1724.5 141.7h0M1727.2 144.1h0M1730.0 144.7h0M1732.8 137.4h0M1735.5 156.0h0M1738.3 160.9h0M1741.1 138.7h0M1743.9 145.6h0M1746.6 145.9h0M1749.4 140.7h0M1752.2 139.9h0M1755.0 144.4h0M1757.7 152.1h0M1760.5 136.6h0M1763.3 140.8h0M1766.0 133.1h0M1768.8 147.8h0M1771.6 136.1h0M1774.4 128.1h0M1777.1 136.0h0M1779.9 140.1h0M1782.7 135.8h0M1785.4 137.7h0M1788.2 136.3h0M1791.0 127.1h0M1793.8 147.6h0M1796.5 131.7h0M1799.3 139.8h0M1802.1 151.2h0M1804.9 130.0h0M1807.6 138.9h0M1810.4 121.3h0M1813.2 140.8h0M1815.9 140.8h0M1818.7 137.6h0M1821.5 139.4h0M1824.3 129.1h0M1827.0 145.4h0M1829.8 140.2h0M1832.6 120.8h0M1835.3 145.9h0M1838.1 125.1h0M1840.9 135.1h0M1843.7 126.8h0M1846.4 129.6h0M1849.2 131.7h0M1852.0 137.3h0M1854.8 142.1h0M1857.5 132.9h0M1860.3 123.7h0M1863.1 136.1h0M1865.8 131.2h0M1868.6 141.1h0M1267.8 533.0h0M1270.5 535.8h0M1273.3 515.6h0M1276.1 531.2h0M1278.8 525.3h0M1281.6 538.2h0M1284.4 521.1h0M1287.2 529.3h0M1289.9 538.3h0M1292.7 524.1h0M1295.5 517.3h0M1298.3 520.4h0M1301.0 507.2h0M1303.8 504.2h0M1306.6 508.8h0M1309.3 511.7h0M1312.1 505.8h0M1314.9 495.5h0M1317.7 490.8h0M1320.4 482.9h0M1323.2 489.2h0M1326.0 492.9h0M1328.7 485.8h0M1331.5 491.4h0M1334.3 479.2h0M1337.1 470.1h0M1339.8 460.8h0M1342.6 472.1h0M1345.4 465.7h0M1348.1 452.4h0M1350.9 459.4h0M1353.7 443.9h0M1356.5 441.3h0M1359.2 439.1h0M1362.0 430.4h0M1364.8 429.2h0M1367.6 424.2h0M1370.3 413.5h0M1373.1 406.5h0M1375.9 402.8h0M1378.6 392.8h0M1381.4 381.8h0M1384.2 383.3h0M1387.0 375.3h0M1389.7 371.0h0M1392.5 362.3h0M1395.3 362.9h0M1398.0 357.4h0M1400.8 353.1h0M1403.6 350.9h0M1406.4 349.4h0M1409.1 344.3h0M1411.9 343.0h0M1414.7 339.5h0M1417.5 331.7h0M1420.2 330.0h0M1423.0 316.7h0M1425.8 311.0h0M1428.5 311.6h0M1431.3 315.4h0M1434.1 321.1h0M1436.9 297.4h0M1439.6 302.4h0M1442.4 297.5h0M1445.2 297.9h0M1447.9 292.4h0M1450.7 296.2h0M1453.5 291.3h0M1456.3 272.0h0M1459.0 275.2h0M1461.8 283.3h0M1464.6 281.4h0M1467.4 277.5h0M1470.1 266.1h0M1472.9 269.9h0M1475.7 261.0h0M1478.4 261.0h0M1481.2 266.7h0M1484.0 258.8h0M1486.8 257.1h0M1489.5 247.7h0M1492.3 252.9h0M1495.1 250.9h0M1497.8 254.6h0M1500.6 245.6h0M1503.4 235.0h0M1506.2 240.7h0M1508.9 234.0h0M1511.7 228.2h0M1514.5 238.5h0M1517.2 225.6h0M1520.0 219.6h0M1522.8 218.1h0M1525.6 216.8h0M1528.3 221.9h0M1531.1 231.1h0M1533.9 225.0h0M1536.7 222.1h0M1539.4 207.8h0M1542.2 219.3h0M1545.0 207.4h0M1547.7 214.5h0M1550.5 200.6h0M1553.3 202.0h0M1556.1 212.0h0M1558.8 217.9h0M1561.6 193.1h0M1564.4 197.7h0M1567.1 182.4h0M1569.9 192.3h0M1572.7 184.1h0M1575.5 191.7h0M1578.2 201.5h0M1581.0 195.6h0M1583.8 184.9h0M1586.6 182.2h0M1589.3 181.0h0M1592.1 181.2h0M1594.9 173.6h0M1597.6 187.7h0M1600.4 169.4h0M1603.2 176.9h0M1606.0 178.6h0M1608.7 170.4h0M1611.5 173.1h0M1614.3 171.4h0M1617.0 175.0h0M1619.8 184.7h0M1622.6 171.9h0M1625.4 164.1h0M1628.1 174.3h0M1630.9 167.1h0M1633.7 170.3h0M1636.5 160.8h0M1639.2 153.7h0M1642.0 164.7h0M1644.8 164.5h0M1647.5 167.9h0M1650.3 163.4h0M1653.1 157.3h0M1655.9 174.2h0M1658.6 144.1h0M1661.4 163.8h0M1664.2 164.3h0M1666.9 158.9h0M1669.7 160.5h0M1672.5 155.0h0M1675.3 141.3h0M1678.0 149.7h0M1680.8 164.7h0M1683.6 135.1h0M1686.3 163.4h0M1689.1 148.6h0M1691.9 151.8h0M1694.7 145.5h0M1697.4 152.3h0M1700.2 153.2h0M1703.0 148.7h0M1705.8 161.3h0M1708.5 148.3h0M1711.3 157.8h0M1714.1 149.3h0M1716.8 145.2h0M1719.6 141.2h0M1722.4 152.6h0M1725.2 136.3h0M1727.9 155.6h0M1730.7 140.1h0M1733.5 135.2h0M1736.2 155.8h0M1739.0 145.4h0M1741.8 139.3h0M1744.6 134.6h0M1747.3 135.0h0M1750.1 146.2h0M1752.9 142.1h0M1755.7 135.8h0M1758.4 145.8h0M1761.2 146.8h0M1764.0 141.0h0M1766.7 159.1h0M1769.5 151.2h0M1772.3 144.0h0M1775.1 148.1h0M1777.8 138.2h0M1780.6 148.3h0M1783.4 131.4h0M1786.1 133.2h0M1788.9 139.6h0M1791.7 143.4h0M1794.5 146.4h0M1797.2 139.8h0M1800.0 136.6h0M1802.8 138.6h0M1805.6 137.4h0M1808.3 127.2h0M1811.1 140.2h0M1813.9 135.6h0M1816.6 153.1h0M1819.4 138.5h0M1822.2 148.8h0M1825.0 138.5h0M1827.7 137.5h0M1830.5 135.2h0M1833.3 135.9h0M1836.0 139.7h0M1838.8 130.4h0M1841.6 143.7h0M1844.4 134.9h0M1847.1 131.9h0M1849.9 135.5h0M1852.7 134.5h0M1855.4 144.7h0M1858.2 133.1h0M1861.0 141.6h0M1863.8 132.3h0M1866.5 132.3h0M1869.3 128.9h0M1267.9 537.0h0M1270.6 536.9h0M1273.4 534.5h0M1276.2 525.4h0M1279.0 528.2h0M1281.7 531.2h0M1284.5 516.2h0M1287.3 516.3h0M1290.0 524.6h0M1292.8 519.0h0M1295.6 514.1h0M1298.4 522.0h0M1301.1 503.3h0M1303.9 504.4h0M1306.7 502.2h0M1309.5 499.0h0M1312.2 502.3h0M1315.0 500.5h0M1317.8 488.4h0M1320.5 489.1h0M1323.3 484.3h0M1326.1 485.4h0M1328.9 481.0h0M1331.6 486.4h0M1334.4 479.9h0M1337.2 471.9h0M1339.9 461.2h0M1342.7 466.3h0M1345.5 459.4h0M1348.3 444.3h0M1351.0 445.2h0M1353.8 436.0h0M1356.6 439.2h0M1359.4 442.6h0M1362.1 421.7h0M1364.9 420.0h0M1367.7 413.3h0M1370.4 415.6h0M1373.2 405.7h0M1376.0 397.0h0M1378.8 389.5h0M1381.5 386.8h0M1384.3 390.3h0M1387.1 370.7h0M1389.8 377.3h0M1392.6 366.9h0M1395.4 361.2h0M1398.2 355.0h0M1400.9 355.1h0M1403.7 351.4h0M1406.5 343.5h0M1409.3 347.0h0M1412.0 333.3h0M1414.8 334.2h0M1417.6 323.4h0M1420.3 336.7h0M1423.1 324.5h0M1425.9 315.8h0M1428.7 313.8h0M1431.4 322.6h0M1434.2 320.3h0M1437.0 308.2h0M1439.7 312.8h0M1442.5 302.5h0M1445.3 298.9h0M1448.1 297.3h0M1450.8 289.5h0M1453.6 281.4h0M1456.4 282.6h0M1459.1 284.9h0M1461.9 279.1h0M1464.7 282.9h0M1467.5 276.2h0M1470.2 267.2h0M1473.0 270.2h0M1475.8 280.6h0M1478.6 257.5h0M1481.3 255.5h0M1484.1 265.2h0M1486.9 263.4h0M1489.6 242.6h0M1492.4 250.9h0M1495.2 240.8h0M1498.0 251.9h0M1500.7 237.0h0M1503.5 241.2h0M1506.3 242.1h0M1509.0 234.5h0M1511.8 219.4h0M1514.6 221.9h0M1517.4 227.1h0M1520.1 236.4h0M1522.9 230.4h0M1525.7 223.4h0M1528.5 218.5h0M1531.2 218.3h0M1534.0 216.0h0M1536.8 220.5h0M1539.5 208.3h0M1542.3 213.6h0M1545.1 208.8h0M1547.9 202.5h0M1550.6 214.4h0M1553.4 210.7h0M1556.2 210.3h0M1558.9 195.9h0M1561.7 194.7h0M1564.5 195.0h0M1567.3 192.4h0M1570.0 191.2h0M1572.8 195.7h0M1575.6 189.1h0M1578.4 182.9h0M1581.1 179.5h0M1583.9 187.8h0M1586.7 187.1h0M1589.4 183.8h0M1592.2 173.2h0M1595.0 186.0h0M1597.8 178.3h0M1600.5 166.5h0M1603.3 173.9h0M1606.1 174.6h0M1608.8 169.0h0M1611.6 176.7h0M1614.4 170.0h0M1617.2 167.0h0M1619.9 168.4h0M1622.7 172.0h0M1625.5 158.6h0M1628.2 157.5h0M1631.0 158.1h0M1633.8 176.1h0M1636.6 157.6h0M1639.3 167.5h0M1642.1 160.2h0M1644.9 154.9h0M1647.7 167.0h0M1650.4 163.4h0M1653.2 165.2h0M1656.0 148.8h0M1658.7 162.8h0M1661.5 164.2h0M1664.3 159.9h0M1667.1 149.1h0M1669.8 163.1h0M1672.6 146.1h0M1675.4 140.9h0M1678.1 161.3h0M1680.9 146.7h0M1683.7 143.7h0M1686.5 142.9h0M1689.2 146.7h0M1692.0 143.3h0M1694.8 153.9h0M1697.6 160.2h0M1700.3 161.0h0M1703.1 148.7h0M1705.9 139.3h0M1708.6 153.9h0M1711.4 142.6h0M1714.2 153.4h0M1717.0 130.9h0M1719.7 156.0h0M1722.5 144.4h0M1725.3 135.4h0M1728.0 148.6h0M1730.8 154.2h0M1733.6 144.3h0M1736.4 150.8h0M1739.1 153.8h0M1741.9 152.0h0M1744.7 142.5h0M1747.5 153.1h0M1750.2 149.2h0M1753.0 143.2h0M1755.8 149.9h0M1758.5 143.8h0M1761.3 139.5h0M1764.1 144.8h0M1766.9 138.6h0M1769.6 143.6h0M1772.4 145.3h0M1775.2 141.6h0M1777.9 144.3h0M1780.7 142.2h0M1783.5 152.6h0M1786.3 134.8h0M1789.0 141.9h0M1791.8 131.2h0M1794.6 136.1h0M1797.3 142.2h0M1800.1 128.5h0M1802.9 131.2h0M1805.7 138.4h0M1808.4 144.9h0M1811.2 146.6h0M1814.0 147.1h0M1816.8 138.6h0M1819.5 143.8h0M1822.3 131.8h0M1825.1 135.0h0M1827.8 133.3h0M1830.6 133.1h0M1833.4 134.9h0M1836.2 142.0h0M1838.9 136.0h0M1841.7 133.2h0M1844.5 140.4h0M1847.2 119.5h0M1850.0 133.6h0M1852.8 134.1h0M1855.6 142.7h0M1858.3 147.1h0M1861.1 134.8h0M1863.9 133.4h0M1866.7 131.3h0M1869.4 136.0h0" stroke="#FF9999" stroke-width="5.2" stroke-linecap="round" fill="none"/>
<path d="M1268.5 542.2h0M1271.2 536.1h0M1274.0 526.9h0M1276.8 535.3h0M1279.5 518.6h0M1282.3 501.7h0M1285.1 521.4h0M1287.9 519.3h0M1290.6 515.5h0M1293.4 506.2h0M1296.2 503.8h0M1299.0 503.2h0M1301.7 502.9h0M1304.5 494.5h0M1307.3 481.0h0M1310.0 496.2h0M1312.8 476.8h0M1315.6 473.6h0M1318.4 488.2h0M1321.1 485.3h0M1323.9 462.8h0M1326.7 470.6h0M1329.4 464.6h0M1332.2 453.6h0M1335.0 444.0h0M1337.8 444.9h0M1340.5 425.8h0M1343.3 424.6h0M1346.1 416.4h0M1348.8 417.2h0M1351.6 409.4h0M1354.4 402.8h0M1357.2 399.7h0M1359.9 397.9h0M1362.7 380.9h0M1365.5 377.5h0M1368.3 362.3h0M1371.0 373.6h0M1373.8 355.7h0M1376.6 346.9h0M1379.3 351.8h0M1382.1 340.2h0M1384.9 345.0h0M1387.7 337.9h0M1390.4 322.8h0M1393.2 326.4h0M1396.0 312.8h0M1398.7 309.0h0M1401.5 306.9h0M1404.3 301.9h0M1407.1 307.4h0M1409.8 295.8h0M1412.6 290.9h0M1415.4 278.7h0M1418.2 287.4h0M1420.9 277.7h0M1423.7 273.5h0M1426.5 277.4h0M1429.2 262.0h0M1432.0 262.1h0M1434.8 266.3h0M1437.6 264.8h0M1440.3 256.6h0M1443.1 249.9h0M1445.9 255.1h0M1448.6 246.5h0M1451.4 246.9h0M1454.2 246.2h0M1457.0 251.0h0M1459.7 240.6h0M1462.5 244.4h0M1465.3 237.1h0M1468.1 239.8h0M1470.8 237.8h0M1473.6 240.1h0M1476.4 239.2h0M1479.1 227.3h0M1481.9 227.1h0M1484.7 229.1h0M1487.5 223.4h0M1490.2 224.9h0M1493.0 216.4h0M1495.8 220.1h0M1498.5 207.1h0M1501.3 213.4h0M1504.1 213.2h0M1506.9 197.3h0M1509.6 204.5h0M1512.4 204.0h0M1515.2 197.7h0M1517.9 205.4h0M1520.7 210.9h0M1523.5 206.7h0M1526.3 195.1h0M1529.0 190.3h0M1531.8 193.1h0M1534.6 199.0h0M1537.4 202.5h0M1540.1 186.8h0M1542.9 180.4h0M1545.7 186.6h0M1548.4 185.1h0M1551.2 200.4h0M1554.0 183.3h0M1556.8 184.5h0M1559.5 182.3h0M1562.3 187.5h0M1565.1 184.8h0M1567.8 191.9h0M1570.6 176.5h0M1573.4 172.5h0M1576.2 165.9h0M1578.9 184.0h0M1581.7 160.3h0M1584.5 166.0h0M1587.3 164.6h0M1590.0 169.3h0M1592.8 162.6h0M1595.6 156.9h0M1598.3 165.8h0M1601.1 159.1h0M1603.9 163.4h0M1606.7 159.5h0M1609.4 159.3h0M1612.2 157.9h0M1615.0 150.7h0M1617.7 156.2h0M1620.5 159.1h0M1623.3 143.6h0M1626.1 152.8h0M1628.8 161.0h0M1631.6 155.0h0M1634.4 145.2h0M1637.2 152.3h0M1639.9 150.0h0M1642.7 166.7h0M1645.5 149.5h0M1648.2 157.8h0M1651.0 151.9h0M1653.8 147.3h0M1656.6 149.2h0M1659.3 148.9h0M1662.1 153.6h0M1664.9 150.1h0M1667.6 167.7h0M1670.4 144.4h0M1673.2 151.5h0M1676.0 142.5h0M1678.7 150.3h0M1681.5 131.8h0M1684.3 161.2h0M1687.1 150.3h0M1689.8 137.8h0M1692.6 129.3h0M1695.4 141.7h0M1698.1 158.1h0M1700.9 156.6h0M1703.7 160.3h0M1706.5 141.9h0M1709.2 134.0h0M1712.0 149.4h0M1714.8 145.6h0M1717.5 138.1h0M1720.3 143.5h0M1723.1 147.9h0M1725.9 154.0h0M1728.6 143.3h0M1731.4 141.6h0M1734.2 141.1h0M1736.9 150.4h0M1739.7 136.9h0M1742.5 147.3h0M1745.3 151.3h0M1748.0 149.7h0M1750.8 133.9h0M1753.6 140.6h0M1756.4 136.1h0M1759.1 132.2h0M1761.9 136.2h0M1764.7 140.4h0M1767.4 151.6h0M1770.2 150.7h0M1773.0 146.3h0M1775.8 139.6h0M1778.5 146.4h0M1781.3 138.5h0M1784.1 142.9h0M1786.8 151.0h0M1789.6 145.4h0M1792.4 143.3h0M1795.2 147.8h0M1797.9 133.0h0M1800.7 131.7h0M1803.5 153.2h0M1806.3 150.4h0M1809.0 137.9h0M1811.8 136.1h0M1814.6 144.2h0M1817.3 141.9h0M1820.1 151.5h0M1822.9 133.0h0M1825.7 133.1h0M1828.4 124.9h0M1831.2 134.8h0M1834.0 142.9h0M1836.7 130.1h0M1839.5 150.0h0M1842.3 132.0h0M1845.1 150.7h0M1847.8 130.6h0M1850.6 133.0h0M1853.4 134.7h0M1856.2 138.6h0M1858.9 135.3h0M1861.7 133.2h0M1864.5 127.3h0M1867.2 130.0h0M1870.0 131.6h0M1268.6 524.6h0M1271.3 530.0h0M1274.1 524.9h0M1276.9 520.9h0M1279.7 521.7h0M1282.4 522.1h0M1285.2 514.8h0M1288.0 509.5h0M1290.7 519.6h0M1293.5 509.1h0M1296.3 508.8h0M1299.1 491.2h0M1301.8 501.9h0M1304.6 498.3h0M1307.4 488.0h0M1310.2 491.4h0M1312.9 492.4h0M1315.7 474.1h0M1318.5 483.7h0M1321.2 483.0h0M1324.0 467.9h0M1326.8 466.9h0M1329.6 463.7h0M1332.3 455.9h0M1335.1 461.5h0M1337.9 441.6h0M1340.6 448.9h0M1343.4 431.8h0M1346.2 435.8h0M1349.0 419.8h0M1351.7 413.3h0M1354.5 402.9h0M1357.3 413.6h0M1360.1 406.6h0M1362.8 393.8h0M1365.6 382.2h0M1368.4 373.3h0M1371.1 357.9h0M1373.9 377.4h0M1376.7 351.4h0M1379.5 350.3h0M1382.2 339.3h0M1385.0 346.2h0M1387.8 327.6h0M1390.5 339.3h0M1393.3 330.6h0M1396.1 323.1h0M1398.9 320.5h0M1401.6 295.1h0M1404.4 309.7h0M1407.2 312.6h0M1410.0 295.1h0M1412.7 301.5h0M1415.5 287.4h0M1418.3 284.1h0M1421.0 277.0h0M1423.8 285.1h0M1426.6 280.9h0M1429.4 280.5h0M1432.1 280.8h0M1434.9 278.9h0M1437.7 273.8h0M1440.4 268.9h0M1443.2 265.1h0M1446.0 259.6h0M1448.8 261.4h0M1451.5 259.6h0M1454.3 255.2h0M1457.1 248.7h0M1459.8 252.6h0M1462.6 241.7h0M1465.4 265.9h0M1468.2 247.7h0M1470.9 241.3h0M1473.7 231.4h0M1476.5 242.4h0M1479.3 219.9h0M1482.0 228.5h0M1484.8 216.3h0M1487.6 223.6h0M1490.3 233.5h0M1493.1 220.6h0M1495.9 223.9h0M1498.7 217.0h0M1501.4 219.0h0M1504.2 205.1h0M1507.0 205.6h0M1509.7 205.9h0M1512.5 202.9h0M1515.3 202.1h0M1518.1 211.4h0M1520.8 200.1h0M1523.6 203.4h0M1526.4 205.6h0M1529.2 207.5h0M1531.9 190.0h0M1534.7 193.2h0M1537.5 181.6h0M1540.2 198.1h0M1543.0 195.3h0M1545.8 193.5h0M1548.6 186.9h0M1551.3 177.3h0M1554.1 192.6h0M1556.9 181.7h0M1559.6 180.4h0M1562.4 188.2h0M1565.2 174.4h0M1568.0 182.5h0M1570.7 189.8h0M1573.5 175.7h0M1576.3 169.1h0M1579.1 176.7h0M1581.8 169.1h0M1584.6 172.7h0M1587.4 172.0h0M1590.1 168.2h0M1592.9 165.2h0M1595.7 166.6h0M1598.5 181.0h0M1601.2 170.0h0M1604.0 175.7h0M1606.8 165.9h0M1609.5 152.3h0M1612.3 164.5h0M1615.1 166.9h0M1617.9 167.7h0M1620.6 165.7h0M1623.4 163.8h0M1626.2 163.1h0M1628.9 151.9h0M1631.7 169.5h0M1634.5 174.7h0M1637.3 173.6h0M1640.0 171.4h0M1642.8 159.7h0M1645.6 157.2h0M1648.4 145.2h0M1651.1 173.2h0M1653.9 151.3h0M1656.7 158.5h0M1659.4 151.5h0M1662.2 158.2h0M1665.0 148.7h0M1667.8 154.3h0M1670.5 140.7h0M1673.3 157.1h0M1676.1 162.2h0M1678.8 147.4h0M1681.6 168.7h0M1684.4 156.1h0M1687.2 148.4h0M1689.9 155.7h0M1692.7 161.1h0M1695.5 142.2h0M1698.3 146.3h0M1701.0 161.9h0M1703.8 150.4h0M1706.6 149.3h0M1709.3 142.5h0M1712.1 158.6h0M1714.9 140.6h0M1717.7 137.4h0M1720.4 142.3h0M1723.2 137.7h0M1726.0 148.4h0M1728.7 139.9h0M1731.5 137.3h0M1734.3 135.1h0M1737.1 148.8h0M1739.8 140.1h0M1742.6 149.4h0M1745.4 131.9h0M1748.2 143.4h0M1750.9 149.9h0M1753.7 138.0h0M1756.5 134.7h0M1759.2 134.7h0M1762.0 147.4h0M1764.8 139.3h0M1767.6 143.5h0M1770.3 126.6h0M1773.1 126.0h0M1775.9 140.4h0M1778.6 137.9h0M1781.4 141.8h0M1784.2 133.6h0M1787.0 133.1h0M1789.7 134.1h0M1792.5 137.8h0M1795.3 135.6h0M1798.0 140.1h0M1800.8 139.8h0M1803.6 140.4h0M1806.4 129.9h0M1809.1 139.8h0M1811.9 148.4h0M1814.7 140.3h0M1817.5 154.7h0M1820.2 131.5h0M1823.0 136.6h0M1825.8 135.7h0M1828.5 138.8h0M1831.3 145.5h0M1834.1 119.4h0M1836.9 135.9h0M1839.6 141.3h0M1842.4 140.2h0M1845.2 138.9h0M1847.9 125.5h0M1850.7 132.6h0M1853.5 135.7h0M1856.3 150.1h0M1859.0 139.0h0M1861.8 135.3h0M1864.6 143.0h0M1867.4 143.9h0M1870.1 138.7h0M1268.9 538.5h0M1271.7 528.0h0M1274.5 532.4h0M1277.3 527.0h0M1280.0 523.9h0M1282.8 529.6h0M1285.6 513.5h0M1288.3 513.2h0M1291.1 515.5h0M1293.9 519.4h0M1296.7 515.1h0M1299.4 506.0h0M1302.2 496.2h0M1305.0 497.1h0M1307.7 504.9h0M1310.5 496.6h0M1313.3 491.0h0M1316.1 476.2h0M1318.8 478.9h0M1321.6 477.6h0M1324.4 481.9h0M1327.2 482.5h0M1329.9 477.3h0M1332.7 469.5h0M1335.5 454.4h0M1338.2 458.7h0M1341.0 433.0h0M1343.8 441.2h0M1346.6 434.7h0M1349.3 437.7h0M1352.1 416.6h0M1354.9 418.6h0M1357.6 409.0h0M1360.4 391.6h0M1363.2 396.1h0M1366.0 390.7h0M1368.7 381.3h0M1371.5 378.6h0M1374.3 360.9h0M1377.1 366.2h0M1379.8 346.7h0M1382.6 355.1h0M1385.4 348.8h0M1388.1 340.9h0M1390.9 337.0h0M1393.7 321.0h0M1396.5 329.7h0M1399.2 323.2h0M1402.0 306.9h0M1404.8 315.9h0M1407.5 315.2h0M1410.3 316.3h0M1413.1 309.2h0M1415.9 296.8h0M1418.6 296.6h0M1421.4 298.0h0M1424.2 296.0h0M1427.0 284.9h0M1429.7 277.9h0M1432.5 280.2h0M1435.3 275.5h0M1438.0 282.3h0M1440.8 274.7h0M1443.6 260.2h0M1446.4 271.4h0M1449.1 271.5h0M1451.9 263.1h0M1454.7 248.9h0M1457.4 254.8h0M1460.2 257.3h0M1463.0 256.0h0M1465.8 250.4h0M1468.5 246.1h0M1471.3 233.8h0M1474.1 250.1h0M1476.8 237.1h0M1479.6 231.6h0M1482.4 246.4h0M1485.2 241.9h0M1487.9 233.5h0M1490.7 230.2h0M1493.5 237.7h0M1496.3 221.1h0M1499.0 223.8h0M1501.8 225.5h0M1504.6 220.2h0M1507.3 198.9h0M1510.1 213.9h0M1512.9 220.2h0M1515.7 213.3h0M1518.4 218.8h0M1521.2 214.4h0M1524.0 210.4h0M1526.7 203.4h0M1529.5 202.3h0M1532.3 202.3h0M1535.1 197.5h0M1537.8 187.9h0M1540.6 205.9h0M1543.4 207.3h0M1546.2 192.1h0M1548.9 192.4h0M1551.7 204.1h0M1554.5 181.7h0M1557.2 195.3h0M1560.0 193.1h0M1562.8 177.7h0M1565.6 186.4h0M1568.3 180.9h0M1571.1 188.3h0M1573.9 171.6h0M1576.6 180.4h0M1579.4 180.1h0M1582.2 177.5h0M1585.0 167.4h0M1587.7 178.7h0M1590.5 167.9h0M1593.3 159.4h0M1596.1 156.5h0M1598.8 181.7h0M1601.6 184.5h0M1604.4 173.2h0M1607.1 170.3h0M1609.9 158.0h0M1612.7 170.2h0M1615.5 159.9h0M1618.2 161.4h0M1621.0 172.2h0M1623.8 151.6h0M1626.5 168.0h0M1629.3 172.5h0M1632.1 171.3h0M1634.9 167.2h0M1637.6 168.4h0M1640.4 164.6h0M1643.2 159.2h0M1645.9 172.6h0M1648.7 149.8h0M1651.5 150.2h0M1654.3 149.8h0M1657.0 160.2h0M1659.8 147.7h0M1662.6 151.7h0M1665.4 156.2h0M1668.1 160.5h0M1670.9 148.6h0M1673.7 158.6h0M1676.4 149.7h0M1679.2 159.5h0M1682.0 165.4h0M1684.8 142.2h0M1687.5 158.0h0M1690.3 146.2h0M1693.1 143.6h0M1695.8 142.6h0M1698.6 151.7h0M1701.4 148.9h0M1704.2 152.5h0M1706.9 150.8h0M1709.7 161.2h0M1712.5 135.2h0M1715.3 140.7h0M1718.0 140.9h0M1720.8 141.7h0M1723.6 151.9h0M1726.3 143.8h0M1729.1 140.6h0M1731.9 143.5h0M1734.7 140.3h0M1737.4 143.0h0M1740.2 140.9h0M1743.0 131.0h0M1745.7 148.9h0M1748.5 144.1h0M1751.3 155.4h0M1754.1 153.0h0M1756.8 137.9h0M1759.6 135.1h0M1762.4 140.0h0M1765.2 148.4h0M1767.9 161.8h0M1770.7 148.5h0M1773.5 134.2h0M1776.2 130.4h0M1779.0 141.7h0M1781.8 137.2h0M1784.6 132.2h0M1787.3 142.9h0M1790.1 127.5h0M1792.9 147.4h0M1795.6 129.9h0M1798.4 135.6h0M1801.2 135.8h0M1804.0 143.0h0M1806.7 141.0h0M1809.5 144.8h0M1812.3 131.6h0M1815.0 130.3h0M1817.8 141.7h0M1820.6 137.6h0M1823.4 139.0h0M1826.1 129.0h0M1828.9 148.3h0M1831.7 122.5h0M1834.5 149.4h0M1837.2 140.0h0M1840.0 136.0h0M1842.8 139.2h0M1845.5 138.5h0M1848.3 138.3h0M1851.1 144.2h0M1853.9 139.5h0M1856.6 138.5h0M1859.4 133.5h0M1862.2 134.7h0M1864.9 134.8h0M1867.7 134.8h0" stroke="#FF6060" stroke-width="5.2" stroke-linecap="round" fill="none"/>
<path d="M1268.8 539.5h0M1271.6 522.7h0M1274.4 527.5h0M1277.2 528.2h0M1279.9 531.8h0M1282.7 533.6h0M1285.5 514.0h0M1288.2 524.2h0M1291.0 510.4h0M1293.8 508.5h0M1296.6 498.0h0M1299.3 506.4h0M1302.1 506.6h0M1304.9 497.3h0M1307.7 497.4h0M1310.4 494.1h0M1313.2 490.8h0M1316.0 487.2h0M1318.7 485.2h0M1321.5 476.1h0M1324.3 476.0h0M1327.1 477.7h0M1329.8 470.3h0M1332.6 461.8h0M1335.4 460.0h0M1338.1 443.8h0M1340.9 457.7h0M1343.7 442.5h0M1346.5 447.4h0M1349.2 421.4h0M1352.0 434.2h0M1354.8 418.2h0M1357.6 423.9h0M1360.3 412.2h0M1363.1 409.9h0M1365.9 407.8h0M1368.6 394.8h0M1371.4 385.2h0M1374.2 380.8h0M1377.0 362.6h0M1379.7 362.6h0M1382.5 353.7h0M1385.3 345.0h0M1388.0 344.5h0M1390.8 347.2h0M1393.6 326.9h0M1396.4 339.9h0M1399.1 327.4h0M1401.9 338.3h0M1404.7 323.4h0M1407.5 307.4h0M1410.2 318.7h0M1413.0 298.2h0M1415.8 297.1h0M1418.5 300.8h0M1421.3 294.3h0M1424.1 289.9h0M1426.9 288.8h0M1429.6 295.4h0M1432.4 280.0h0M1435.2 280.7h0M1437.9 264.0h0M1440.7 285.8h0M1443.5 274.1h0M1446.3 264.3h0M1449.0 257.5h0M1451.8 267.4h0M1454.6 255.4h0M1457.3 249.5h0M1460.1 255.0h0M1462.9 256.8h0M1465.7 260.0h0M1468.4 245.1h0M1471.2 241.7h0M1474.0 241.2h0M1476.8 229.6h0M1479.5 249.3h0M1482.3 222.9h0M1485.1 237.5h0M1487.8 246.0h0M1490.6 237.0h0M1493.4 232.7h0M1496.2 233.8h0M1498.9 246.5h0M1501.7 230.0h0M1504.5 210.7h0M1507.2 218.1h0M1510.0 202.7h0M1512.8 214.7h0M1515.6 201.0h0M1518.3 208.7h0M1521.1 217.6h0M1523.9 197.8h0M1526.7 206.3h0M1529.4 201.5h0M1532.2 196.8h0M1535.0 200.8h0M1537.7 195.4h0M1540.5 202.7h0M1543.3 206.8h0M1546.1 195.1h0M1548.8 192.9h0M1551.6 184.7h0M1554.4 197.0h0M1557.1 195.8h0M1559.9 202.8h0M1562.7 182.7h0M1565.5 187.0h0M1568.2 172.8h0M1571.0 175.2h0M1573.8 173.8h0M1576.6 198.8h0M1579.3 172.7h0M1582.1 190.9h0M1584.9 181.6h0M1587.6 178.3h0M1590.4 161.2h0M1593.2 178.7h0M1596.0 171.3h0M1598.7 165.5h0M1601.5 164.1h0M1604.3 171.1h0M1607.0 172.3h0M1609.8 143.4h0M1612.6 177.3h0M1615.4 175.0h0M1618.1 174.5h0M1620.9 163.6h0M1623.7 165.4h0M1626.4 168.3h0M1629.2 188.4h0M1632.0 149.6h0M1634.8 156.6h0M1637.5 157.6h0M1640.3 171.4h0M1643.1 163.4h0M1645.9 157.0h0M1648.6 160.8h0M1651.4 142.1h0M1654.2 155.0h0M1656.9 164.4h0M1659.7 149.2h0M1662.5 158.9h0M1665.3 165.7h0M1668.0 159.8h0M1670.8 150.3h0M1673.6 144.4h0M1676.3 143.8h0M1679.1 145.9h0M1681.9 143.7h0M1684.7 153.9h0M1687.4 149.0h0M1690.2 144.7h0M1693.0 159.9h0M1695.8 154.4h0M1698.5 158.1h0M1701.3 160.9h0M1704.1 172.2h0M1706.8 157.1h0M1709.6 145.1h0M1712.4 161.3h0M1715.2 163.8h0M1717.9 155.7h0M1720.7 158.3h0M1723.5 155.2h0M1726.2 149.4h0M1729.0 160.8h0M1731.8 147.5h0M1734.6 163.1h0M1737.3 156.6h0M1740.1 152.2h0M1742.9 151.7h0M1745.7 145.8h0M1748.4 152.8h0M1751.2 161.3h0M1754.0 166.7h0M1756.7 147.7h0M1759.5 166.8h0M1762.3 161.7h0M1765.1 154.4h0M1767.8 157.7h0M1770.6 171.0h0M1773.4 145.4h0M1776.1 154.2h0M1778.9 155.7h0M1781.7 148.9h0M1784.5 149.1h0M1787.2 142.3h0M1790.0 149.5h0M1792.8 154.8h0M1795.5 145.5h0M1798.3 151.9h0M1801.1 170.7h0M1803.9 154.6h0M1806.6 163.5h0M1809.4 157.9h0M1812.2 175.7h0M1815.0 158.9h0M1817.7 157.6h0M1820.5 159.1h0M1823.3 157.6h0M1826.0 144.0h0M1828.8 153.7h0M1831.6 167.4h0M1834.4 140.4h0M1837.1 145.3h0M1839.9 148.5h0M1842.7 156.0h0M1845.4 156.3h0M1848.2 151.9h0M1851.0 151.0h0M1853.8 143.6h0M1856.5 145.6h0M1859.3 160.3h0M1862.1 148.6h0M1864.9 152.0h0M1867.6 156.6h0M1268.3 531.6h0M1271.1 541.3h0M1273.9 538.3h0M1276.6 537.9h0M1279.4 538.4h0M1282.2 514.8h0M1284.9 522.9h0M1287.7 528.5h0M1290.5 517.8h0M1293.3 514.3h0M1296.0 508.8h0M1298.8 506.9h0M1301.6 514.3h0M1304.4 502.0h0M1307.1 512.5h0M1309.9 496.4h0M1312.7 486.4h0M1315.4 504.2h0M1318.2 495.3h0M1321.0 487.6h0M1323.8 482.4h0M1326.5 476.5h0M1329.3 471.8h0M1332.1 477.1h0M1334.8 460.0h0M1337.6 473.7h0M1340.4 456.2h0M1343.2 448.8h0M1345.9 441.0h0M1348.7 443.8h0M1351.5 447.8h0M1354.2 429.2h0M1357.0 413.9h0M1359.8 426.2h0M1362.6 398.1h0M1365.3 419.8h0M1368.1 406.3h0M1370.9 395.8h0M1373.7 380.1h0M1376.4 395.0h0M1379.2 371.1h0M1382.0 373.4h0M1384.7 362.3h0M1387.5 350.0h0M1390.3 366.9h0M1393.1 342.2h0M1395.8 351.8h0M1398.6 347.1h0M1401.4 344.3h0M1404.1 323.6h0M1406.9 329.0h0M1409.7 325.9h0M1412.5 317.3h0M1415.2 315.2h0M1418.0 314.6h0M1420.8 315.0h0M1423.6 304.3h0M1426.3 306.0h0M1429.1 304.2h0M1431.9 278.4h0M1434.6 301.3h0M1437.4 285.4h0M1440.2 292.7h0M1443.0 268.3h0M1445.7 282.2h0M1448.5 270.8h0M1451.3 261.8h0M1454.0 269.5h0M1456.8 277.3h0M1459.6 270.8h0M1462.4 270.2h0M1465.1 256.0h0M1467.9 252.7h0M1470.7 253.8h0M1473.5 250.3h0M1476.2 243.2h0M1479.0 254.0h0M1481.8 243.9h0M1484.5 253.5h0M1487.3 245.9h0M1490.1 247.2h0M1492.9 236.7h0M1495.6 242.6h0M1498.4 231.4h0M1501.2 226.3h0M1503.9 227.7h0M1506.7 217.3h0M1509.5 223.1h0M1512.3 215.1h0M1515.0 243.0h0M1517.8 224.8h0M1520.6 220.6h0M1523.3 210.3h0M1526.1 200.5h0M1528.9 202.0h0M1531.7 201.2h0M1534.4 218.9h0M1537.2 206.6h0M1540.0 209.3h0M1542.8 196.3h0M1545.5 198.2h0M1548.3 187.4h0M1551.1 196.5h0M1553.8 198.4h0M1556.6 196.1h0M1559.4 188.4h0M1562.2 201.0h0M1564.9 197.4h0M1567.7 178.8h0M1570.5 192.5h0M1573.2 189.3h0M1576.0 172.9h0M1578.8 174.8h0M1581.6 187.7h0M1584.3 190.4h0M1587.1 174.0h0M1589.9 171.6h0M1592.7 168.5h0M1595.4 178.0h0M1598.2 185.0h0M1601.0 166.8h0M1603.7 179.3h0M1606.5 173.2h0M1609.3 163.9h0M1612.1 179.9h0M1614.8 171.9h0M1617.6 170.9h0M1620.4 177.1h0M1623.1 177.3h0M1625.9 171.8h0M1628.7 152.7h0M1631.5 162.6h0M1634.2 161.4h0M1637.0 173.4h0M1639.8 170.9h0M1642.6 191.9h0M1645.3 156.8h0M1648.1 162.5h0M1650.9 153.0h0M1653.6 145.5h0M1656.4 151.3h0M1659.2 164.6h0M1662.0 174.2h0M1664.7 150.8h0M1667.5 162.6h0M1670.3 157.2h0M1673.0 170.2h0M1675.8 160.4h0M1678.6 161.0h0M1681.4 155.5h0M1684.1 157.9h0M1686.9 161.3h0M1689.7 157.3h0M1692.4 159.9h0M1695.2 155.6h0M1698.0 156.0h0M1700.8 149.0h0M1703.5 172.9h0M1706.3 140.6h0M1709.1 148.4h0M1711.9 161.6h0M1714.6 153.7h0M1717.4 149.7h0M1720.2 169.4h0M1722.9 156.6h0M1725.7 177.7h0M1728.5 164.6h0M1731.3 166.8h0M1734.0 137.5h0M1736.8 166.1h0M1739.6 161.3h0M1742.3 137.9h0M1745.1 184.4h0M1747.9 171.2h0M1750.7 141.6h0M1753.4 161.8h0M1756.2 132.2h0M1759.0 155.8h0M1761.8 143.7h0M1764.5 161.4h0M1767.3 164.3h0M1770.1 156.2h0M1772.8 149.5h0M1775.6 148.0h0M1778.4 154.7h0M1781.2 158.1h0M1783.9 157.6h0M1786.7 151.6h0M1789.5 161.2h0M1792.2 161.9h0M1795.0 162.0h0M1797.8 168.3h0M1800.6 145.2h0M1803.3 169.9h0M1806.1 159.6h0M1808.9 165.1h0M1811.7 145.0h0M1814.4 187.9h0M1817.2 172.7h0M1820.0 166.9h0M1822.7 151.2h0M1825.5 138.1h0M1828.3 144.6h0M1831.1 147.4h0M1833.8 152.8h0M1836.6 151.4h0M1839.4 142.6h0M1842.1 151.9h0M1844.9 155.3h0M1847.7 159.8h0M1850.5 136.1h0M1853.2 156.8h0M1856.0 145.5h0M1858.8 153.5h0M1861.5 167.8h0M1864.3 167.0h0M1867.1 158.2h0M1869.9 171.2h0M1268.1 542.0h0M1270.8 529.7h0M1273.6 534.2h0M1276.4 538.2h0M1279.2 532.6h0M1281.9 522.5h0M1284.7 510.0h0M1287.5 510.7h0M1290.3 525.3h0M1293.0 521.7h0M1295.8 517.8h0M1298.6 502.4h0M1301.3 514.1h0M1304.1 502.9h0M1306.9 511.1h0M1309.7 508.2h0M1312.4 498.8h0M1315.2 508.9h0M1318.0 492.0h0M1320.7 492.7h0M1323.5 484.2h0M1326.3 489.6h0M1329.1 490.7h0M1331.8 468.4h0M1334.6 472.8h0M1337.4 477.9h0M1340.2 460.3h0M1342.9 450.6h0M1345.7 446.6h0M1348.5 433.5h0M1351.2 429.9h0M1354.0 440.0h0M1356.8 423.9h0M1359.6 413.9h0M1362.3 421.6h0M1365.1 407.1h0M1367.9 418.4h0M1370.6 383.4h0M1373.4 381.7h0M1376.2 393.4h0M1379.0 402.2h0M1381.7 375.2h0M1384.5 350.2h0M1387.3 366.0h0M1390.1 353.8h0M1392.8 346.8h0M1395.6 350.2h0M1398.4 348.3h0M1401.1 342.7h0M1403.9 331.3h0M1406.7 335.9h0M1409.5 322.3h0M1412.2 322.6h0M1415.0 314.4h0M1417.8 326.2h0M1420.5 318.3h0M1423.3 300.0h0M1426.1 303.5h0M1428.9 306.0h0M1431.6 307.0h0M1434.4 286.7h0M1437.2 300.8h0M1439.9 272.6h0M1442.7 281.0h0M1445.5 291.0h0M1448.3 294.7h0M1451.0 275.3h0M1453.8 265.3h0M1456.6 274.1h0M1459.4 283.4h0M1462.1 262.0h0M1464.9 255.0h0M1467.7 261.1h0M1470.4 253.1h0M1473.2 252.3h0M1476.0 256.3h0M1478.8 256.1h0M1481.5 252.5h0M1484.3 233.6h0M1487.1 247.4h0M1489.8 245.4h0M1492.6 243.5h0M1495.4 238.7h0M1498.2 229.8h0M1500.9 242.6h0M1503.7 217.6h0M1506.5 216.2h0M1509.3 224.4h0M1512.0 229.1h0M1514.8 226.3h0M1517.6 219.6h0M1520.3 218.0h0M1523.1 221.2h0M1525.9 225.6h0M1528.7 216.2h0M1531.4 218.4h0M1534.2 204.5h0M1537.0 227.7h0M1539.7 202.1h0M1542.5 209.7h0M1545.3 194.8h0M1548.1 205.1h0M1550.8 199.2h0M1553.6 206.6h0M1556.4 200.0h0M1559.2 196.7h0M1561.9 194.0h0M1564.7 190.6h0M1567.5 199.3h0M1570.2 185.0h0M1573.0 197.1h0M1575.8 181.3h0M1578.6 185.9h0M1581.3 182.3h0M1584.1 170.5h0M1586.9 154.7h0M1589.6 179.0h0M1592.4 185.9h0M1595.2 162.2h0M1598.0 161.6h0M1600.7 177.5h0M1603.5 169.8h0M1606.3 176.4h0M1609.0 187.8h0M1611.8 162.5h0M1614.6 168.9h0M1617.4 164.2h0M1620.1 160.0h0M1622.9 164.5h0M1625.7 180.7h0M1628.5 167.3h0M1631.2 144.3h0M1634.0 172.8h0M1636.8 158.5h0M1639.5 161.0h0M1642.3 174.8h0M1645.1 182.1h0M1647.9 161.7h0M1650.6 163.0h0M1653.4 187.9h0M1656.2 151.8h0M1658.9 152.0h0M1661.7 148.6h0M1664.5 154.8h0M1667.3 159.6h0M1670.0 167.5h0M1672.8 158.2h0M1675.6 154.0h0M1678.4 149.9h0M1681.1 164.1h0M1683.9 166.3h0M1686.7 188.4h0M1689.4 159.6h0M1692.2 161.6h0M1695.0 168.4h0M1697.8 158.5h0M1700.5 168.9h0M1703.3 148.7h0M1706.1 167.9h0M1708.8 140.8h0M1711.6 146.5h0M1714.4 159.2h0M1717.2 170.2h0M1719.9 148.9h0M1722.7 140.2h0M1725.5 167.2h0M1728.3 157.2h0M1731.0 158.3h0M1733.8 156.6h0M1736.6 150.4h0M1739.3 160.1h0M1742.1 156.6h0M1744.9 161.0h0M1747.7 154.0h0M1750.4 157.1h0M1753.2 151.5h0M1756.0 158.4h0M1758.7 128.0h0M1761.5 138.5h0M1764.3 145.1h0M1767.1 148.2h0M1769.8 149.4h0M1772.6 155.8h0M1775.4 159.8h0M1778.1 147.6h0M1780.9 174.3h0M1783.7 148.7h0M1786.5 149.9h0M1789.2 159.7h0M1792.0 161.5h0M1794.8 164.3h0M1797.6 158.9h0M1800.3 162.0h0M1803.1 169.6h0M1805.9 152.3h0M1808.6 149.8h0M1811.4 161.9h0M1814.2 153.6h0M1817.0 152.4h0M1819.7 160.0h0M1822.5 146.1h0M1825.3 162.5h0M1828.0 172.7h0M1830.8 160.0h0M1833.6 151.9h0M1836.4 169.1h0M1839.1 172.9h0M1841.9 172.0h0M1844.7 141.5h0M1847.5 149.4h0M1850.2 158.0h0M1853.0 158.7h0M1855.8 159.2h0M1858.5 154.6h0M1861.3 136.7h0M1864.1 148.4h0M1866.9 143.3h0M1869.6 157.2h0" stroke="#00A514" stroke-width="5.2" stroke-linecap="round" fill="none"/>
<path d="M1267.7 524.0h0M1270.5 524.8h0M1273.2 512.9h0M1276.0 529.6h0M1278.8 532.5h0M1281.6 516.4h0M1284.3 511.2h0M1287.1 514.6h0M1289.9 502.7h0M1292.6 501.3h0M1295.4 510.0h0M1298.2 503.1h0M1301.0 488.3h0M1303.7 481.2h0M1306.5 495.0h0M1309.3 487.9h0M1312.0 484.9h0M1314.8 477.9h0M1317.6 489.7h0M1320.4 480.1h0M1323.1 457.5h0M1325.9 451.6h0M1328.7 467.3h0M1331.5 447.4h0M1334.2 456.6h0M1337.0 432.6h0M1339.8 436.7h0M1342.5 421.7h0M1345.3 416.5h0M1348.1 400.5h0M1350.9 394.8h0M1353.6 396.0h0M1356.4 389.4h0M1359.2 373.6h0M1361.9 361.6h0M1364.7 344.7h0M1367.5 342.6h0M1370.3 333.6h0M1373.0 333.9h0M1375.8 329.5h0M1378.6 313.9h0M1381.3 320.5h0M1384.1 303.4h0M1386.9 299.0h0M1389.7 292.3h0M1392.4 301.6h0M1395.2 277.0h0M1398.0 282.5h0M1400.8 275.3h0M1403.5 265.8h0M1406.3 268.8h0M1409.1 276.6h0M1411.8 252.0h0M1414.6 250.1h0M1417.4 254.7h0M1420.2 245.8h0M1422.9 237.8h0M1425.7 246.8h0M1428.5 250.4h0M1431.2 229.2h0M1434.0 225.7h0M1436.8 240.6h0M1439.6 226.1h0M1442.3 229.4h0M1445.1 226.2h0M1447.9 229.6h0M1450.7 224.8h0M1453.4 209.1h0M1456.2 211.0h0M1459.0 215.5h0M1461.7 210.6h0M1464.5 203.0h0M1467.3 205.3h0M1470.1 207.3h0M1472.8 207.5h0M1475.6 203.9h0M1478.4 199.4h0M1481.1 199.4h0M1483.9 191.3h0M1486.7 193.2h0M1489.5 215.4h0M1492.2 199.4h0M1495.0 201.6h0M1497.8 188.1h0M1500.6 190.5h0M1503.3 186.2h0M1506.1 192.5h0M1508.9 174.1h0M1511.6 182.3h0M1514.4 184.7h0M1517.2 171.0h0M1520.0 186.7h0M1522.7 177.1h0M1525.5 167.6h0M1528.3 180.8h0M1531.0 177.8h0M1533.8 173.1h0M1536.6 182.7h0M1539.4 163.8h0M1542.1 186.2h0M1544.9 176.0h0M1547.7 172.2h0M1550.4 171.6h0M1553.2 169.7h0M1556.0 170.3h0M1558.8 174.0h0M1561.5 164.6h0M1564.3 188.2h0M1567.1 163.4h0M1569.9 168.1h0M1572.6 163.8h0M1575.4 157.5h0M1578.2 164.7h0M1580.9 164.6h0M1583.7 153.8h0M1586.5 155.8h0M1589.3 156.9h0M1592.0 171.7h0M1594.8 151.6h0M1597.6 150.0h0M1600.3 159.3h0M1603.1 158.1h0M1605.9 162.8h0M1608.7 150.0h0M1611.4 168.9h0M1614.2 169.4h0M1617.0 149.9h0M1619.8 150.3h0M1622.5 162.2h0M1625.3 173.1h0M1628.1 163.1h0M1630.8 155.1h0M1633.6 148.0h0M1636.4 152.5h0M1639.2 156.0h0M1641.9 141.4h0M1644.7 142.5h0M1647.5 149.6h0M1650.2 155.7h0M1653.0 142.8h0M1655.8 156.1h0M1658.6 173.0h0M1661.3 166.7h0M1664.1 154.1h0M1666.9 138.4h0M1669.7 149.3h0M1672.4 150.7h0M1675.2 146.5h0M1678.0 140.2h0M1680.7 156.0h0M1683.5 152.3h0M1686.3 146.0h0M1689.1 148.7h0M1691.8 139.2h0M1694.6 156.1h0M1697.4 161.2h0M1700.1 155.7h0M1702.9 153.1h0M1705.7 138.4h0M1708.5 165.1h0M1711.2 149.3h0M1714.0 142.5h0M1716.8 148.9h0M1719.5 153.7h0M1722.3 146.4h0M1725.1 153.2h0M1727.9 158.9h0M1730.6 150.4h0M1733.4 146.3h0M1736.2 147.5h0M1739.0 150.6h0M1741.7 152.8h0M1744.5 143.7h0M1747.3 136.5h0M1750.0 151.2h0M1752.8 144.1h0M1755.6 137.9h0M1758.4 153.3h0M1761.1 142.5h0M1763.9 134.5h0M1766.7 146.4h0M1769.4 148.2h0M1772.2 146.9h0M1775.0 135.9h0M1777.8 131.6h0M1780.5 148.9h0M1783.3 168.2h0M1786.1 135.8h0M1788.9 136.4h0M1791.6 137.7h0M1794.4 143.2h0M1797.2 158.1h0M1799.9 147.5h0M1802.7 172.5h0M1805.5 132.1h0M1808.3 127.3h0M1811.0 146.8h0M1813.8 158.7h0M1816.6 126.3h0M1819.3 134.2h0M1822.1 139.4h0M1824.9 152.9h0M1827.7 142.7h0M1830.4 155.8h0M1833.2 135.9h0M1836.0 156.0h0M1838.8 124.8h0M1841.5 124.4h0M1844.3 160.1h0M1847.1 135.7h0M1849.8 160.6h0M1852.6 133.9h0M1855.4 154.6h0M1858.2 150.9h0M1860.9 150.9h0M1863.7 159.1h0M1866.5 134.0h0M1869.2 145.8h0M1267.0 532.0h0M1269.8 532.7h0M1272.6 543.2h0M1275.3 519.9h0M1278.1 523.3h0M1280.9 512.6h0M1283.6 498.3h0M1286.4 502.8h0M1289.2 514.7h0M1292.0 499.2h0M1294.7 497.6h0M1297.5 499.7h0M1300.3 490.4h0M1303.1 489.2h0M1305.8 492.6h0M1308.6 500.6h0M1311.4 488.2h0M1314.1 474.0h0M1316.9 477.0h0M1319.7 470.9h0M1322.5 462.6h0M1325.2 472.2h0M1328.0 461.9h0M1330.8 451.9h0M1333.5 455.5h0M1336.3 441.1h0M1339.1 431.9h0M1341.9 421.0h0M1344.6 429.5h0M1347.4 415.8h0M1350.2 407.6h0M1353.0 386.5h0M1355.7 380.2h0M1358.5 386.9h0M1361.3 384.2h0M1364.0 359.5h0M1366.8 366.3h0M1369.6 359.1h0M1372.4 345.9h0M1375.1 331.6h0M1377.9 329.7h0M1380.7 307.8h0M1383.4 305.6h0M1386.2 303.4h0M1389.0 293.9h0M1391.8 300.0h0M1394.5 297.0h0M1397.3 290.1h0M1400.1 282.7h0M1402.8 286.4h0M1405.6 270.0h0M1408.4 271.3h0M1411.2 279.2h0M1413.9 259.6h0M1416.7 262.9h0M1419.5 249.6h0M1422.3 244.4h0M1425.0 252.6h0M1427.8 246.9h0M1430.6 240.9h0M1433.3 238.5h0M1436.1 229.4h0M1438.9 231.0h0M1441.7 235.5h0M1444.4 237.4h0M1447.2 234.5h0M1450.0 221.5h0M1452.7 225.9h0M1455.5 224.1h0M1458.3 221.7h0M1461.1 229.0h0M1463.8 207.0h0M1466.6 220.7h0M1469.4 230.6h0M1472.2 209.0h0M1474.9 213.1h0M1477.7 208.8h0M1480.5 199.4h0M1483.2 208.9h0M1486.0 195.2h0M1488.8 208.9h0M1491.6 196.6h0M1494.3 195.3h0M1497.1 204.5h0M1499.9 192.5h0M1502.6 188.6h0M1505.4 190.3h0M1508.2 174.2h0M1511.0 181.4h0M1513.7 185.2h0M1516.5 192.0h0M1519.3 175.8h0M1522.1 172.7h0M1524.8 186.5h0M1527.6 177.5h0M1530.4 166.2h0M1533.1 176.5h0M1535.9 194.8h0M1538.7 176.7h0M1541.5 193.4h0M1544.2 170.9h0M1547.0 180.4h0M1549.8 186.3h0M1552.5 181.1h0M1555.3 174.6h0M1558.1 171.3h0M1560.9 157.5h0M1563.6 166.8h0M1566.4 159.1h0M1569.2 178.0h0M1571.9 170.0h0M1574.7 186.5h0M1577.5 161.4h0M1580.3 171.5h0M1583.0 141.7h0M1585.8 165.9h0M1588.6 169.2h0M1591.4 166.8h0M1594.1 164.9h0M1596.9 168.5h0M1599.7 146.1h0M1602.4 151.9h0M1605.2 156.0h0M1608.0 169.3h0M1610.8 151.5h0M1613.5 159.3h0M1616.3 164.3h0M1619.1 150.4h0M1621.8 167.6h0M1624.6 158.0h0M1627.4 144.1h0M1630.2 141.8h0M1632.9 151.7h0M1635.7 142.2h0M1638.5 164.2h0M1641.3 147.7h0M1644.0 155.4h0M1646.8 172.0h0M1649.6 152.5h0M1652.3 186.5h0M1655.1 143.1h0M1657.9 138.0h0M1660.7 152.7h0M1663.4 163.6h0M1666.2 154.9h0M1669.0 154.6h0M1671.7 146.8h0M1674.5 156.9h0M1677.3 150.0h0M1680.1 147.1h0M1682.8 156.8h0M1685.6 156.3h0M1688.4 149.4h0M1691.2 145.8h0M1693.9 149.6h0M1696.7 141.5h0M1699.5 142.4h0M1702.2 137.2h0M1705.0 152.9h0M1707.8 149.7h0M1710.6 126.6h0M1713.3 147.0h0M1716.1 142.6h0M1718.9 145.7h0M1721.6 142.4h0M1724.4 156.7h0M1727.2 131.4h0M1730.0 126.6h0M1732.7 139.3h0M1735.5 147.9h0M1738.3 152.6h0M1741.1 139.5h0M1743.8 147.9h0M1746.6 147.3h0M1749.4 142.3h0M1752.1 150.5h0M1754.9 139.9h0M1757.7 152.2h0M1760.5 153.7h0M1763.2 142.3h0M1766.0 140.6h0M1768.8 162.1h0M1771.5 148.0h0M1774.3 162.4h0M1777.1 143.7h0M1779.9 130.3h0M1782.6 162.4h0M1785.4 150.8h0M1788.2 142.7h0M1790.9 160.5h0M1793.7 142.4h0M1796.5 136.9h0M1799.3 138.0h0M1802.0 142.4h0M1804.8 132.1h0M1807.6 152.4h0M1810.4 135.0h0M1813.1 121.6h0M1815.9 146.9h0M1818.7 152.8h0M1821.4 131.3h0M1824.2 141.6h0M1827.0 130.8h0M1829.8 126.4h0M1832.5 151.2h0M1835.3 111.6h0M1838.1 150.1h0M1840.8 150.7h0M1843.6 151.5h0M1846.4 126.0h0M1849.2 174.2h0M1851.9 144.9h0M1854.7 148.6h0M1857.5 136.8h0M1860.3 134.2h0M1863.0 129.6h0M1865.8 152.7h0M1868.6 137.8h0M1268.8 520.5h0M1271.6 525.8h0M1274.4 511.7h0M1277.2 519.8h0M1279.9 517.4h0M1282.7 502.0h0M1285.5 511.7h0M1288.2 526.6h0M1291.0 511.4h0M1293.8 508.3h0M1296.6 503.6h0M1299.3 496.3h0M1302.1 498.1h0M1304.9 478.7h0M1307.7 480.2h0M1310.4 482.6h0M1313.2 478.0h0M1316.0 469.5h0M1318.7 468.3h0M1321.5 476.2h0M1324.3 460.6h0M1327.1 458.1h0M1329.8 464.6h0M1332.6 443.3h0M1335.4 438.2h0M1338.1 433.5h0M1340.9 414.9h0M1343.7 423.0h0M1346.5 412.7h0M1349.2 411.8h0M1352.0 396.4h0M1354.8 386.8h0M1357.6 384.8h0M1360.3 370.2h0M1363.1 369.8h0M1365.9 353.4h0M1368.6 347.8h0M1371.4 340.4h0M1374.2 324.3h0M1377.0 331.3h0M1379.7 311.1h0M1382.5 300.2h0M1385.3 294.0h0M1388.0 300.1h0M1390.8 300.2h0M1393.6 305.0h0M1396.4 295.9h0M1399.1 286.2h0M1401.9 290.4h0M1404.7 274.9h0M1407.4 275.1h0M1410.2 259.9h0M1413.0 264.9h0M1415.8 272.4h0M1418.5 268.6h0M1421.3 265.8h0M1424.1 261.2h0M1426.9 246.4h0M1429.6 245.0h0M1432.4 229.4h0M1435.2 241.4h0M1437.9 236.4h0M1440.7 229.7h0M1443.5 245.5h0M1446.3 215.1h0M1449.0 233.2h0M1451.8 213.7h0M1454.6 221.3h0M1457.3 239.5h0M1460.1 217.3h0M1462.9 209.3h0M1465.7 220.4h0M1468.4 211.0h0M1471.2 221.5h0M1474.0 220.6h0M1476.8 219.1h0M1479.5 198.9h0M1482.3 193.4h0M1485.1 208.6h0M1487.8 199.7h0M1490.6 208.9h0M1493.4 210.1h0M1496.2 195.1h0M1498.9 193.4h0M1501.7 187.3h0M1504.5 193.4h0M1507.2 195.2h0M1510.0 201.0h0M1512.8 186.3h0M1515.6 182.4h0M1518.3 183.3h0M1521.1 184.6h0M1523.9 194.0h0M1526.7 186.2h0M1529.4 186.4h0M1532.2 176.3h0M1535.0 176.9h0M1537.7 185.2h0M1540.5 169.6h0M1543.3 166.0h0M1546.1 166.5h0M1548.8 174.1h0M1551.6 169.9h0M1554.4 169.6h0M1557.1 171.8h0M1559.9 183.8h0M1562.7 178.1h0M1565.5 176.9h0M1568.2 160.9h0M1571.0 159.2h0M1573.8 170.0h0M1576.5 154.7h0M1579.3 168.4h0M1582.1 168.5h0M1584.9 167.6h0M1587.6 175.3h0M1590.4 164.6h0M1593.2 171.3h0M1596.0 142.4h0M1598.7 151.4h0M1601.5 166.9h0M1604.3 170.6h0M1607.0 149.3h0M1609.8 153.7h0M1612.6 155.3h0M1615.4 157.3h0M1618.1 141.4h0M1620.9 147.9h0M1623.7 142.0h0M1626.4 177.6h0M1629.2 164.3h0M1632.0 175.1h0M1634.8 167.2h0M1637.5 165.1h0M1640.3 156.9h0M1643.1 156.0h0M1645.9 154.4h0M1648.6 164.4h0M1651.4 143.1h0M1654.2 154.9h0M1656.9 146.4h0M1659.7 165.1h0M1662.5 148.0h0M1665.3 166.7h0M1668.0 157.2h0M1670.8 142.0h0M1673.6 133.0h0M1676.3 163.5h0M1679.1 135.1h0M1681.9 163.7h0M1684.7 156.7h0M1687.4 153.8h0M1690.2 137.7h0M1693.0 162.8h0M1695.8 158.7h0M1698.5 164.8h0M1701.3 134.3h0M1704.1 144.8h0M1706.8 164.4h0M1709.6 118.6h0M1712.4 160.8h0M1715.2 143.9h0M1717.9 138.8h0M1720.7 146.8h0M1723.5 133.0h0M1726.2 151.9h0M1729.0 153.7h0M1731.8 148.2h0M1734.6 155.5h0M1737.3 164.6h0M1740.1 146.9h0M1742.9 134.2h0M1745.6 142.5h0M1748.4 146.9h0M1751.2 164.9h0M1754.0 145.7h0M1756.7 154.6h0M1759.5 138.0h0M1762.3 136.1h0M1765.1 161.9h0M1767.8 155.7h0M1770.6 145.8h0M1773.4 143.7h0M1776.1 134.2h0M1778.9 139.7h0M1781.7 155.3h0M1784.5 149.0h0M1787.2 158.3h0M1790.0 132.7h0M1792.8 124.7h0M1795.5 145.7h0M1798.3 134.3h0M1801.1 135.2h0M1803.9 140.8h0M1806.6 142.1h0M1809.4 127.0h0M1812.2 130.0h0M1815.0 126.1h0M1817.7 135.9h0M1820.5 150.9h0M1823.3 152.9h0M1826.0 151.3h0M1828.8 150.1h0M1831.6 137.5h0M1834.4 157.6h0M1837.1 146.5h0M1839.9 141.5h0M1842.7 125.1h0M1845.4 140.1h0M1848.2 129.5h0M1851.0 150.2h0M1853.8 135.6h0M1856.5 161.5h0M1859.3 153.6h0M1862.1 138.3h0M1864.9 145.4h0M1867.6 153.6h0" stroke="#008000" stroke-width="5.2" stroke-linecap="round" fill="none"/>
<path d="M1268.6 536.2h0M1271.4 532.8h0M1274.1 535.9h0M1276.9 530.7h0M1279.7 537.3h0M1282.5 526.0h0M1285.2 524.5h0M1288.0 516.7h0M1290.8 528.7h0M1293.5 521.6h0M1296.3 513.3h0M1299.1 517.6h0M1301.9 512.1h0M1304.6 509.0h0M1307.4 510.5h0M1310.2 513.4h0M1312.9 501.8h0M1315.7 502.0h0M1318.5 505.8h0M1321.3 501.0h0M1324.0 498.0h0M1326.8 497.4h0M1329.6 502.6h0M1332.4 490.2h0M1335.1 479.0h0M1337.9 484.6h0M1340.7 473.9h0M1343.4 478.3h0M1346.2 473.2h0M1349.0 466.8h0M1351.8 467.9h0M1354.5 464.8h0M1357.3 453.4h0M1360.1 464.4h0M1362.8 446.5h0M1365.6 447.1h0M1368.4 448.7h0M1371.2 443.5h0M1373.9 426.6h0M1376.7 428.0h0M1379.5 426.4h0M1382.3 420.5h0M1385.0 420.1h0M1387.8 418.5h0M1390.6 408.1h0M1393.3 398.3h0M1396.1 398.7h0M1398.9 392.5h0M1401.7 388.6h0M1404.4 386.7h0M1407.2 393.6h0M1410.0 375.7h0M1412.7 370.0h0M1415.5 367.8h0M1418.3 369.6h0M1421.1 365.4h0M1423.8 350.3h0M1426.6 359.2h0M1429.4 346.1h0M1432.2 344.1h0M1434.9 342.8h0M1437.7 339.5h0M1440.5 326.3h0M1443.2 340.9h0M1446.0 323.5h0M1448.8 333.8h0M1451.6 311.0h0M1454.3 315.1h0M1457.1 320.8h0M1459.9 311.7h0M1462.6 308.0h0M1465.4 306.9h0M1468.2 303.6h0M1471.0 302.8h0M1473.7 289.2h0M1476.5 294.4h0M1479.3 279.4h0M1482.0 281.0h0M1484.8 293.4h0M1487.6 284.7h0M1490.4 273.2h0M1493.1 275.9h0M1495.9 269.3h0M1498.7 270.1h0M1501.5 265.8h0M1504.2 256.2h0M1507.0 258.0h0M1509.8 273.4h0M1512.5 260.1h0M1515.3 247.4h0M1518.1 253.6h0M1520.9 243.0h0M1523.6 241.5h0M1526.4 246.2h0M1529.2 251.5h0M1531.9 250.0h0M1534.7 244.8h0M1537.5 237.0h0M1540.3 236.3h0M1543.0 226.5h0M1545.8 229.6h0M1548.6 233.2h0M1551.4 233.5h0M1554.1 230.1h0M1556.9 222.6h0M1559.7 227.9h0M1562.4 215.4h0M1565.2 220.6h0M1568.0 219.7h0M1570.8 224.2h0M1573.5 227.9h0M1576.3 202.2h0M1579.1 218.0h0M1581.8 212.3h0M1584.6 210.2h0M1587.4 209.4h0M1590.2 188.8h0M1592.9 185.7h0M1595.7 199.7h0M1598.5 207.3h0M1601.3 178.6h0M1604.0 193.6h0M1606.8 204.8h0M1609.6 183.2h0M1612.3 181.4h0M1615.1 185.9h0M1617.9 187.7h0M1620.7 192.6h0M1623.4 168.3h0M1626.2 180.9h0M1629.0 183.0h0M1631.7 193.7h0M1634.5 174.0h0M1637.3 176.7h0M1640.1 185.1h0M1642.8 177.7h0M1645.6 183.1h0M1648.4 166.5h0M1651.1 182.2h0M1653.9 154.0h0M1656.7 187.8h0M1659.5 164.5h0M1662.2 167.0h0M1665.0 160.2h0M1667.8 171.1h0M1670.6 165.1h0M1673.3 167.7h0M1676.1 162.3h0M1678.9 167.2h0M1681.6 171.4h0M1684.4 179.5h0M1687.2 160.1h0M1690.0 176.1h0M1692.7 163.7h0M1695.5 169.2h0M1698.3 176.2h0M1701.0 150.0h0M1703.8 142.3h0M1706.6 144.3h0M1709.4 151.7h0M1712.1 183.7h0M1714.9 163.5h0M1717.7 167.3h0M1720.5 156.8h0M1723.2 150.9h0M1726.0 137.6h0M1728.8 163.0h0M1731.5 156.8h0M1734.3 144.4h0M1737.1 153.3h0M1739.9 159.4h0M1742.6 157.7h0M1745.4 157.0h0M1748.2 161.7h0M1750.9 141.8h0M1753.7 148.4h0M1756.5 145.5h0M1759.3 159.0h0M1762.0 153.2h0M1764.8 135.1h0M1767.6 149.6h0M1770.4 150.3h0M1773.1 141.3h0M1775.9 140.2h0M1778.7 146.6h0M1781.4 136.9h0M1784.2 130.7h0M1787.0 124.4h0M1789.8 115.9h0M1792.5 149.0h0M1795.3 138.4h0M1798.1 143.3h0M1800.8 136.4h0M1803.6 160.0h0M1806.4 135.7h0M1809.2 171.5h0M1811.9 140.3h0M1814.7 128.6h0M1817.5 137.1h0M1820.2 134.6h0M1823.0 138.8h0M1825.8 133.8h0M1828.6 158.3h0M1831.3 162.8h0M1834.1 119.1h0M1836.9 124.5h0M1839.7 138.3h0M1842.4 134.7h0M1845.2 136.2h0M1848.0 139.8h0M1850.7 138.0h0M1853.5 124.2h0M1856.3 149.3h0M1859.1 148.5h0M1861.8 134.4h0M1864.6 129.6h0M1867.4 138.5h0M1870.1 122.9h0M1267.2 538.1h0M1270.0 537.8h0M1272.8 527.8h0M1275.5 532.5h0M1278.3 536.7h0M1281.1 530.1h0M1283.9 531.1h0M1286.6 524.1h0M1289.4 524.9h0M1292.2 525.7h0M1294.9 524.5h0M1297.7 531.8h0M1300.5 513.7h0M1303.3 518.7h0M1306.0 505.4h0M1308.8 510.4h0M1311.6 512.4h0M1314.3 502.1h0M1317.1 502.3h0M1319.9 501.0h0M1322.7 487.7h0M1325.4 500.3h0M1328.2 491.4h0M1331.0 494.2h0M1333.8 482.7h0M1336.5 492.6h0M1339.3 481.9h0M1342.1 479.8h0M1344.8 472.9h0M1347.6 475.2h0M1350.4 465.6h0M1353.2 462.6h0M1355.9 462.3h0M1358.7 456.8h0M1361.5 448.3h0M1364.2 445.1h0M1367.0 448.1h0M1369.8 443.3h0M1372.6 444.5h0M1375.3 433.9h0M1378.1 430.4h0M1380.9 429.1h0M1383.7 421.8h0M1386.4 416.2h0M1389.2 417.3h0M1392.0 405.2h0M1394.7 404.9h0M1397.5 396.2h0M1400.3 384.7h0M1403.1 397.5h0M1405.8 384.4h0M1408.6 381.8h0M1411.4 376.8h0M1414.1 371.0h0M1416.9 363.7h0M1419.7 363.6h0M1422.5 357.9h0M1425.2 355.7h0M1428.0 350.8h0M1430.8 345.5h0M1433.5 350.0h0M1436.3 332.3h0M1439.1 335.7h0M1441.9 333.7h0M1444.6 336.4h0M1447.4 328.7h0M1450.2 322.5h0M1453.0 327.0h0M1455.7 329.4h0M1458.5 307.6h0M1461.3 314.1h0M1464.0 314.2h0M1466.8 290.6h0M1469.6 303.2h0M1472.4 294.8h0M1475.1 306.4h0M1477.9 299.0h0M1480.7 290.5h0M1483.4 302.3h0M1486.2 287.5h0M1489.0 275.2h0M1491.8 278.4h0M1494.5 287.5h0M1497.3 264.1h0M1500.1 268.7h0M1502.9 252.0h0M1505.6 264.0h0M1508.4 253.2h0M1511.2 262.0h0M1513.9 257.3h0M1516.7 250.4h0M1519.5 260.1h0M1522.3 245.1h0M1525.0 265.0h0M1527.8 252.7h0M1530.6 245.5h0M1533.3 242.1h0M1536.1 246.1h0M1538.9 233.7h0M1541.7 241.6h0M1544.4 231.3h0M1547.2 226.8h0M1550.0 230.3h0M1552.8 223.3h0M1555.5 213.2h0M1558.3 228.1h0M1561.1 236.6h0M1563.8 220.6h0M1566.6 220.3h0M1569.4 204.7h0M1572.2 206.1h0M1574.9 212.9h0M1577.7 214.2h0M1580.5 216.7h0M1583.2 216.6h0M1586.0 214.5h0M1588.8 209.0h0M1591.6 201.6h0M1594.3 195.1h0M1597.1 210.5h0M1599.9 184.5h0M1602.6 188.9h0M1605.4 189.5h0M1608.2 195.7h0M1611.0 191.5h0M1613.7 180.3h0M1616.5 191.8h0M1619.3 181.8h0M1622.1 186.2h0M1624.8 193.9h0M1627.6 187.0h0M1630.4 192.3h0M1633.1 189.4h0M1635.9 177.4h0M1638.7 186.3h0M1641.5 178.3h0M1644.2 177.0h0M1647.0 154.7h0M1649.8 176.4h0M1652.5 172.5h0M1655.3 177.9h0M1658.1 176.9h0M1660.9 175.9h0M1663.6 164.4h0M1666.4 176.5h0M1669.2 185.1h0M1672.0 149.0h0M1674.7 177.1h0M1677.5 160.1h0M1680.3 145.4h0M1683.0 183.6h0M1685.8 179.0h0M1688.6 157.9h0M1691.4 184.2h0M1694.1 164.0h0M1696.9 161.1h0M1699.7 158.7h0M1702.4 137.5h0M1705.2 160.2h0M1708.0 146.0h0M1710.8 151.9h0M1713.5 151.4h0M1716.3 133.9h0M1719.1 153.8h0M1721.9 173.5h0M1724.6 149.6h0M1727.4 150.8h0M1730.2 144.7h0M1732.9 170.0h0M1735.7 176.5h0M1738.5 150.3h0M1741.3 146.4h0M1744.0 157.1h0M1746.8 154.2h0M1749.6 174.8h0M1752.3 148.4h0M1755.1 154.9h0M1757.9 139.0h0M1760.7 157.6h0M1763.4 151.4h0M1766.2 163.8h0M1769.0 126.6h0M1771.7 147.5h0M1774.5 140.3h0M1777.3 156.6h0M1780.1 151.3h0M1782.8 133.9h0M1785.6 133.2h0M1788.4 167.0h0M1791.2 142.1h0M1793.9 126.9h0M1796.7 140.6h0M1799.5 150.9h0M1802.2 151.4h0M1805.0 129.8h0M1807.8 152.9h0M1810.6 156.7h0M1813.3 139.9h0M1816.1 151.3h0M1818.9 141.7h0M1821.6 138.1h0M1824.4 163.5h0M1827.2 131.5h0M1830.0 129.0h0M1832.7 133.1h0M1835.5 148.3h0M1838.3 141.0h0M1841.1 126.0h0M1843.8 150.4h0M1846.6 139.8h0M1849.4 147.7h0M1852.1 130.9h0M1854.9 117.5h0M1857.7 146.7h0M1860.5 123.8h0M1863.2 134.4h0M1866.0 152.1h0M1868.8 130.9h0M1268.6 523.5h0M1271.3 529.3h0M1274.1 537.6h0M1276.9 529.9h0M1279.6 527.3h0M1282.4 531.8h0M1285.2 518.7h0M1288.0 532.7h0M1290.7 519.3h0M1293.5 514.0h0M1296.3 523.5h0M1299.0 523.6h0M1301.8 520.7h0M1304.6 508.9h0M1307.4 513.4h0M1310.1 510.9h0M1312.9 502.3h0M1315.7 503.4h0M1318.4 496.7h0M1321.2 500.8h0M1324.0 495.1h0M1326.8 493.4h0M1329.5 488.6h0M1332.3 491.3h0M1335.1 483.2h0M1337.9 479.9h0M1340.6 480.6h0M1343.4 484.7h0M1346.2 472.7h0M1348.9 471.4h0M1351.7 469.5h0M1354.5 469.4h0M1357.3 467.6h0M1360.0 456.3h0M1362.8 454.5h0M1365.6 451.0h0M1368.3 439.3h0M1371.1 435.7h0M1373.9 437.0h0M1376.7 435.2h0M1379.4 428.1h0M1382.2 428.3h0M1385.0 421.7h0M1387.8 413.9h0M1390.5 403.6h0M1393.3 409.2h0M1396.1 403.5h0M1398.8 403.3h0M1401.6 400.2h0M1404.4 379.4h0M1407.2 391.0h0M1409.9 388.5h0M1412.7 372.4h0M1415.5 367.8h0M1418.2 365.7h0M1421.0 357.6h0M1423.8 354.4h0M1426.6 352.3h0M1429.3 358.5h0M1432.1 334.9h0M1434.9 341.1h0M1437.7 335.5h0M1440.4 337.0h0M1443.2 327.2h0M1446.0 332.3h0M1448.7 324.6h0M1451.5 324.5h0M1454.3 319.7h0M1457.1 306.0h0M1459.8 307.3h0M1462.6 314.8h0M1465.4 310.5h0M1468.1 300.2h0M1470.9 302.7h0M1473.7 306.7h0M1476.5 286.4h0M1479.2 295.5h0M1482.0 288.5h0M1484.8 284.1h0M1487.6 281.5h0M1490.3 282.0h0M1493.1 283.5h0M1495.9 282.4h0M1498.6 269.2h0M1501.4 278.1h0M1504.2 272.2h0M1507.0 268.0h0M1509.7 264.5h0M1512.5 249.4h0M1515.3 261.1h0M1518.0 251.5h0M1520.8 260.3h0M1523.6 237.5h0M1526.4 257.6h0M1529.1 255.8h0M1531.9 245.9h0M1534.7 249.3h0M1537.4 239.8h0M1540.2 224.1h0M1543.0 244.1h0M1545.8 226.8h0M1548.5 233.5h0M1551.3 211.0h0M1554.1 237.8h0M1556.9 226.1h0M1559.6 228.2h0M1562.4 215.0h0M1565.2 210.5h0M1567.9 222.7h0M1570.7 219.4h0M1573.5 214.9h0M1576.3 217.9h0M1579.0 209.8h0M1581.8 214.0h0M1584.6 207.9h0M1587.3 204.6h0M1590.1 214.7h0M1592.9 196.0h0M1595.7 202.3h0M1598.4 197.2h0M1601.2 201.2h0M1604.0 202.5h0M1606.8 188.9h0M1609.5 184.8h0M1612.3 168.4h0M1615.1 195.7h0M1617.8 194.3h0M1620.6 182.0h0M1623.4 181.1h0M1626.2 192.2h0M1628.9 180.2h0M1631.7 188.0h0M1634.5 167.4h0M1637.2 175.4h0M1640.0 195.8h0M1642.8 192.7h0M1645.6 168.9h0M1648.3 168.5h0M1651.1 181.1h0M1653.9 171.9h0M1656.7 167.7h0M1659.4 168.2h0M1662.2 176.8h0M1665.0 185.1h0M1667.7 162.1h0M1670.5 177.5h0M1673.3 186.7h0M1676.1 158.7h0M1678.8 160.1h0M1681.6 170.5h0M1684.4 154.3h0M1687.1 164.7h0M1689.9 152.6h0M1692.7 148.7h0M1695.5 161.5h0M1698.2 157.1h0M1701.0 168.9h0M1703.8 157.7h0M1706.5 165.0h0M1709.3 164.6h0M1712.1 170.4h0M1714.9 152.6h0M1717.6 144.4h0M1720.4 130.5h0M1723.2 168.7h0M1726.0 171.5h0M1728.7 152.2h0M1731.5 162.0h0M1734.3 165.5h0M1737.0 163.3h0M1739.8 154.1h0M1742.6 159.7h0M1745.4 117.1h0M1748.1 165.7h0M1750.9 161.7h0M1753.7 160.4h0M1756.4 143.2h0M1759.2 143.9h0M1762.0 138.2h0M1764.8 128.2h0M1767.5 135.4h0M1770.3 143.3h0M1773.1 170.7h0M1775.9 146.9h0M1778.6 147.0h0M1781.4 145.0h0M1784.2 154.8h0M1786.9 150.0h0M1789.7 145.4h0M1792.5 127.1h0M1795.3 154.1h0M1798.0 126.3h0M1800.8 154.7h0M1803.6 124.5h0M1806.3 159.5h0M1809.1 149.0h0M1811.9 133.5h0M1814.7 133.8h0M1817.4 136.9h0M1820.2 134.0h0M1823.0 153.1h0M1825.8 158.1h0M1828.5 155.1h0M1831.3 134.7h0M1834.1 156.4h0M1836.8 124.5h0M1839.6 121.7h0M1842.4 124.1h0M1845.2 141.3h0M1847.9 131.5h0M1850.7 146.1h0M1853.5 152.7h0M1856.2 139.7h0M1859.0 130.6h0M1861.8 141.8h0M1864.6 129.2h0M1867.3 147.0h0M1870.1 124.4h0" stroke="#005000" stroke-width="5.2" stroke-linecap="round" fill="none"/>
<path d="M1266.5 542.8V79.6H1870.6V542.8" fill="none" stroke="#111" stroke-width="1.3"/>
<path d="M1266.5 543.0H1870.6" fill="none" stroke="#6a6a6a" stroke-width="1.9"/>
<text transform="translate(1293.54 136.02) scale(1.0128 1.05)" font-size="32.4" fill="#008000" stroke="#008000" stroke-width="0.15">*</text>
<text transform="translate(1313.44 136.42) scale(1.0128 1.05)" font-size="32.4" fill="#D04070" stroke="#D04070" stroke-width="0.15">*</text>
<text transform="translate(1333.34 136.82) scale(1.0128 1.05)" font-size="32.4" fill="#55B8FA" stroke="#55B8FA" stroke-width="0.15">*</text>
<text transform="translate(1353.44 136.42) scale(1.0128 1.05)" font-size="32.4" fill="#000" stroke="#000" stroke-width="0.15">*</text>
<text transform="translate(1239.42 550.6) scale(1.1500 1)" font-size="24" fill="#000" >0</text>
<text transform="translate(1219.03 466.3) scale(1.0780 1)" font-size="24" fill="#000" >0.2</text>
<text transform="translate(1218.50 382.0) scale(1.0780 1)" font-size="24" fill="#000" >0.4</text>
<text transform="translate(1219.03 297.7) scale(1.0780 1)" font-size="24" fill="#000" >0.6</text>
<text transform="translate(1219.03 213.4) scale(1.0780 1)" font-size="24" fill="#000" >0.8</text>
<text transform="translate(1243.41 129.1) scale(0.7500 1)" font-size="24" fill="#000" >1</text>
<text transform="translate(1258.74 572.5) scale(1.1500 1)" font-size="24" fill="#000" >0</text>
<text transform="translate(1414.61 572.5) scale(1.1100 1)" font-size="24" fill="#000" >20</text>
<text transform="translate(1578.03 572.5) scale(1.1100 1)" font-size="24" fill="#000" >40</text>
<text transform="translate(1740.71 572.5) scale(1.1100 1)" font-size="24" fill="#000" >60</text>
<text transform="translate(1517.70 617.2) scale(1.0045 1)" font-size="27.8" fill="#000" >Time (h)</text>
<text transform="translate(1195.3 451.60) rotate(-90) scale(1.0085 1)" font-size="27.8" fill="#000" >ThT fluorescence (AU)</text>
<rect x="1609.9" y="283.1" width="243.5" height="179.1" fill="#fff" stroke="#262626" stroke-width="1.4"/>
<path d="M1609.9 372.6h7M1639.0 462.2v-7M1736.3 462.2v-7M1833.7 462.2v-7" stroke="#262626" stroke-width="1.3" fill="none"/>
<path d="M1639.0 340V389.5M1687.7 332.2V414.5M1736.3 330V364M1833.7 337V355" stroke="#0000FF" stroke-width="2.9" fill="none"/>
<circle cx="1639.0" cy="363.3" r="10.9" fill="#0000FF"/>
<circle cx="1687.7" cy="371.6" r="10.9" fill="#0000FF"/>
<circle cx="1736.3" cy="344" r="10.9" fill="#0000FF"/>
<circle cx="1833.7" cy="345.7" r="10.9" fill="#0000FF"/>
<circle cx="1639.0" cy="340.9" r="4.9" fill="none" stroke="#0CC4F8" stroke-width="2.1"/>
<circle cx="1639.0" cy="359.6" r="4.9" fill="none" stroke="#0CC4F8" stroke-width="2.1"/>
<circle cx="1639.0" cy="388.9" r="4.9" fill="none" stroke="#0CC4F8" stroke-width="2.1"/>
<circle cx="1687.7" cy="338.7" r="4.9" fill="none" stroke="#0CC4F8" stroke-width="2.1"/>
<circle cx="1687.7" cy="361.7" r="4.9" fill="none" stroke="#0CC4F8" stroke-width="2.1"/>
<circle cx="1687.7" cy="414.1" r="4.9" fill="none" stroke="#0CC4F8" stroke-width="2.1"/>
<circle cx="1736.3" cy="330.8" r="4.9" fill="none" stroke="#0CC4F8" stroke-width="2.1"/>
<circle cx="1736.3" cy="336.8" r="4.9" fill="none" stroke="#0CC4F8" stroke-width="2.1"/>
<circle cx="1736.3" cy="363.8" r="4.9" fill="none" stroke="#0CC4F8" stroke-width="2.1"/>
<circle cx="1833.7" cy="336.4" r="4.9" fill="none" stroke="#0CC4F8" stroke-width="2.1"/>
<circle cx="1833.7" cy="345.7" r="4.9" fill="none" stroke="#0CC4F8" stroke-width="2.1"/>
<circle cx="1833.7" cy="355" r="4.9" fill="none" stroke="#0CC4F8" stroke-width="2.1"/>
<text transform="translate(1583.33 470.3) scale(1.1500 1)" font-size="24" fill="#000" >0</text>
<text transform="translate(1585.45 380.7) scale(1.0000 1)" font-size="24" fill="#000" >5</text>
<text transform="translate(1572.80 291.2) scale(0.9670 1)" font-size="24" fill="#000" >10</text>
<text transform="translate(1625.11 490.8) scale(0.9667 1)" font-size="24" fill="#000" >10</text>
<text transform="translate(1721.02 490.8) scale(1.1061 1)" font-size="24" fill="#000" >20</text>
<text transform="translate(1818.59 490.8) scale(1.1111 1)" font-size="24" fill="#000" >30</text>
<text transform="translate(1608.04 527.1) scale(1.0410 1)" font-size="27.8" fill="#000" >Concentration (µM)</text>
<text transform="translate(1544 469.09) rotate(-90) scale(1.0194 1)" font-size="27.5" fill="#000" >Lag time <tspan font-style="italic">t</tspan><tspan font-size="20" dy="8.5">0.1</tspan><tspan dy="-8.5"> (h)</tspan></text>
</g>
<g id="pd">
<text transform="translate(1913.50 70.2) scale(1.0673 1)" font-size="27.6" fill="#008000" >Low concentration</text>
<rect x="1930.3" y="81.1" width="206" height="205.6" fill="#EEEEEE" stroke="#000" stroke-width="4.2"/>
<circle cx="2071.3" cy="137.8" r="29.1" fill="url(#gg)"/>
<circle cx="1980.2" cy="166.3" r="29.1" fill="url(#gg)"/>
<circle cx="2052.2" cy="234.4" r="29.1" fill="url(#gg)"/>
<text transform="translate(1909.39 322.1) scale(1.0726 1)" font-size="27.6" fill="#0080FF" >High concentration</text>
<rect x="1928.5" y="336.7" width="207.8" height="207.5" fill="#EEEEEE" stroke="#000" stroke-width="4.2"/>
<circle cx="1986.1" cy="373.1" r="29.2" fill="url(#gg)"/>
<circle cx="2081" cy="374.9" r="29.2" fill="url(#gg)"/>
<circle cx="2035.8" cy="421.6" r="29.2" fill="url(#gg)"/>
<circle cx="1963.1" cy="434" r="29.2" fill="url(#gg)"/>
<circle cx="2100.9" cy="445.5" r="29.2" fill="url(#gg)"/>
<circle cx="1967.2" cy="504" r="29.2" fill="url(#gg)"/>
<circle cx="2028.7" cy="488.4" r="29.2" fill="url(#gg)"/>
<circle cx="2089.2" cy="509.1" r="29.2" fill="url(#gg)"/>
<text transform="translate(1963.44 172.7) scale(0.9714 1)" font-size="28" fill="#008000" ><tspan font-style="italic">C</tspan><tspan font-size="18.3" dy="7.6" dx="0.5">D</tspan></text>
<text transform="translate(2019.54 429.3) scale(0.9746 1)" font-size="28" fill="#0080FF" ><tspan font-style="italic">C</tspan><tspan font-size="18.3" dy="7.6" dx="0.5">D</tspan></text>
</g>
</svg>
</body></html>
